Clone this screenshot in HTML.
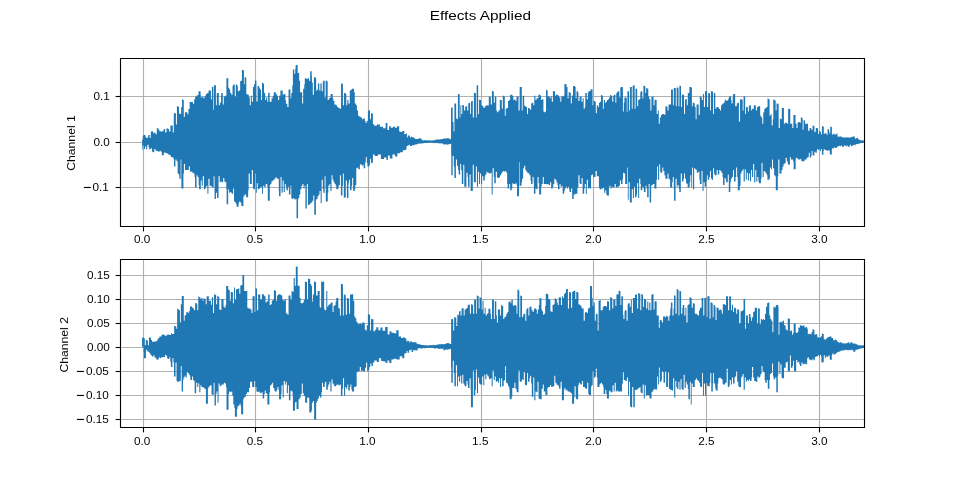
<!DOCTYPE html>
<html><head><meta charset="utf-8"><style>
html,body{margin:0;padding:0;background:#fff;}
svg{display:block;}
.t{font-family:"Liberation Sans",sans-serif;font-size:11.1px;fill:#000;}
.ti{font-family:"Liberation Sans",sans-serif;font-size:13.3px;fill:#000;}
</style></head><body>
<svg width="960" height="480" viewBox="0 0 960 480">
<rect width="960" height="480" fill="#fff"/>
<g opacity="0.999">
<text transform="translate(480.30,20.00) scale(1.156,1)" text-anchor="middle" class="ti">Effects Applied</text>
<clipPath id="c1"><rect x="120.5" y="58.5" width="744.0" height="168.0"/></clipPath>
<line x1="143.5" y1="58.5" x2="143.5" y2="226.5" stroke="#b0b0b0" stroke-width="1.11"/>
<line x1="255.5" y1="58.5" x2="255.5" y2="226.5" stroke="#b0b0b0" stroke-width="1.11"/>
<line x1="368.5" y1="58.5" x2="368.5" y2="226.5" stroke="#b0b0b0" stroke-width="1.11"/>
<line x1="481.5" y1="58.5" x2="481.5" y2="226.5" stroke="#b0b0b0" stroke-width="1.11"/>
<line x1="593.5" y1="58.5" x2="593.5" y2="226.5" stroke="#b0b0b0" stroke-width="1.11"/>
<line x1="706.5" y1="58.5" x2="706.5" y2="226.5" stroke="#b0b0b0" stroke-width="1.11"/>
<line x1="819.5" y1="58.5" x2="819.5" y2="226.5" stroke="#b0b0b0" stroke-width="1.11"/>
<line x1="120.5" y1="96.5" x2="864.5" y2="96.5" stroke="#b0b0b0" stroke-width="1.11"/>
<line x1="120.5" y1="142.5" x2="864.5" y2="142.5" stroke="#b0b0b0" stroke-width="1.11"/>
<line x1="120.5" y1="187.5" x2="864.5" y2="187.5" stroke="#b0b0b0" stroke-width="1.11"/>
<polygon clip-path="url(#c1)" fill="#1f77b4" points="142.10,139.38 142.79,139.38 142.79,135.88 143.41,135.88 143.41,135.00 145.41,135.00 145.41,136.75 145.91,136.75 145.91,137.63 148.16,137.63 148.16,135.00 149.66,135.00 149.66,137.63 150.79,137.63 150.79,131.50 152.04,131.50 152.04,131.15 153.16,131.15 153.16,133.25 154.29,133.25 154.29,132.38 155.54,132.38 155.54,134.13 156.79,134.13 156.79,128.35 158.54,128.35 158.54,129.75 159.41,129.75 159.41,131.15 160.79,131.15 160.79,131.50 162.04,131.50 162.04,131.15 163.54,131.15 163.54,128.88 165.16,128.88 165.16,132.38 166.54,132.38 166.54,128.35 167.79,128.35 167.79,128.88 169.04,128.88 169.04,131.50 170.41,131.50 170.41,125.38 172.79,125.38 172.79,132.38 173.79,132.38 173.79,113.13 175.91,113.13 175.91,124.50 176.91,124.50 176.91,106.13 178.41,106.13 178.41,107.00 179.04,107.00 179.04,113.65 181.16,113.65 181.16,107.00 182.04,107.00 182.04,99.30 182.91,99.30 182.91,100.00 183.79,100.00 183.79,116.63 184.91,116.63 184.91,112.25 187.29,112.25 187.29,114.35 188.41,114.35 188.41,109.10 189.66,109.10 189.66,102.10 192.91,102.10 192.91,103.85 194.16,103.85 194.16,99.13 195.16,99.13 195.16,96.85 196.29,96.85 196.29,95.63 197.54,95.63 197.54,95.10 198.54,95.10 198.54,91.25 200.54,91.25 200.54,94.75 200.79,94.75 200.79,97.38 201.91,97.38 201.91,96.85 203.29,96.85 203.29,98.25 204.54,98.25 204.54,96.15 205.79,96.15 205.79,93.88 207.16,93.88 207.16,93.00 208.54,93.00 208.54,90.38 210.91,90.38 210.91,99.13 211.91,99.13 211.91,86.88 213.29,86.88 213.29,109.63 213.91,109.63 213.91,85.13 215.91,85.13 215.91,105.25 216.79,105.25 216.79,93.00 218.79,93.00 218.79,105.25 219.91,105.25 219.91,102.63 221.04,102.63 221.04,95.63 221.29,95.63 221.29,93.00 222.79,93.00 222.79,104.38 223.79,104.38 223.79,96.50 225.04,96.50 225.04,95.63 226.41,95.63 226.41,78.13 228.29,78.13 228.29,87.75 229.29,87.75 229.29,89.50 230.16,89.50 230.16,93.00 231.29,93.00 231.29,94.75 232.54,94.75 232.54,86.00 233.16,86.00 233.16,84.60 234.79,84.60 234.79,96.50 235.79,96.50 235.79,84.60 237.29,84.60 237.29,86.00 237.79,86.00 237.79,91.25 239.04,91.25 239.04,90.38 240.16,90.38 240.16,81.10 241.04,81.10 241.04,80.75 241.91,80.75 241.91,69.90 243.04,69.90 243.04,70.25 243.91,70.25 243.91,84.25 244.66,84.25 244.66,77.25 246.04,77.25 246.04,78.13 246.29,78.13 246.29,93.88 247.41,93.88 247.41,94.75 248.79,94.75 248.79,97.38 249.79,97.38 249.79,105.25 250.79,105.25 250.79,95.63 251.79,95.63 251.79,101.75 252.91,101.75 252.91,86.88 254.04,86.88 254.04,84.25 254.91,84.25 254.91,80.40 256.41,80.40 256.41,101.40 257.54,101.40 257.54,86.00 259.16,86.00 259.16,87.75 259.91,87.75 259.91,89.50 261.04,89.50 261.04,100.00 262.04,100.00 262.04,82.85 263.04,82.85 263.04,83.38 264.04,83.38 264.04,93.00 265.16,93.00 265.16,100.00 266.16,100.00 266.16,97.38 267.29,97.38 267.29,101.75 268.16,101.75 268.16,92.65 269.66,92.65 269.66,101.75 271.54,101.75 271.54,98.25 272.79,98.25 272.79,95.63 273.79,95.63 273.79,92.13 275.79,92.13 275.79,93.88 276.79,93.88 276.79,95.63 278.04,95.63 278.04,100.00 279.16,100.00 279.16,95.63 280.41,95.63 280.41,90.38 282.66,90.38 282.66,94.75 283.79,94.75 283.79,93.88 285.41,93.88 285.41,100.00 285.91,100.00 285.91,103.85 287.29,103.85 287.29,107.00 288.54,107.00 288.54,89.50 290.41,89.50 290.41,98.25 291.29,98.25 291.29,93.00 292.29,93.00 292.29,85.13 292.91,85.13 292.91,69.38 294.29,69.38 294.29,73.75 295.29,73.75 295.29,68.50 295.66,68.50 295.66,65.00 297.66,65.00 297.66,72.88 299.16,72.88 299.16,80.75 300.04,80.75 300.04,92.13 302.16,92.13 302.16,103.50 303.16,103.50 303.16,88.63 304.29,88.63 304.29,84.25 304.79,84.25 304.79,78.13 306.41,78.13 306.41,79.00 307.79,79.00 307.79,78.13 309.04,78.13 309.04,80.75 310.16,80.75 310.16,71.13 311.66,71.13 311.66,75.50 311.91,75.50 311.91,82.50 312.79,82.50 312.79,94.75 313.91,94.75 313.91,77.25 315.54,77.25 315.54,78.13 316.16,78.13 316.16,90.38 317.29,90.38 317.29,89.50 317.91,89.50 317.91,83.38 319.29,83.38 319.29,90.38 320.41,90.38 320.41,83.38 321.66,83.38 321.66,91.25 322.79,91.25 322.79,81.63 323.29,81.63 323.29,80.75 324.66,80.75 324.66,97.38 325.66,97.38 325.66,80.75 327.29,80.75 327.29,81.63 327.66,81.63 327.66,100.00 328.79,100.00 328.79,98.25 330.04,98.25 330.04,97.38 330.66,97.38 330.66,93.88 332.66,93.88 332.66,98.25 333.29,98.25 333.29,100.88 334.41,100.88 334.41,104.38 335.79,104.38 335.79,105.25 337.04,105.25 337.04,107.00 338.29,107.00 338.29,107.88 339.66,107.88 339.66,108.75 341.04,108.75 341.04,83.38 342.66,83.38 342.66,84.25 342.91,84.25 342.91,105.25 344.04,105.25 344.04,93.00 345.66,93.00 345.66,93.88 346.29,93.88 346.29,105.25 347.29,105.25 347.29,100.00 348.41,100.00 348.41,103.50 349.79,103.50 349.79,90.38 351.04,90.38 351.04,89.50 352.04,89.50 352.04,88.63 354.04,88.63 354.04,92.13 354.79,92.13 354.79,103.50 355.91,103.50 355.91,105.25 356.91,105.25 356.91,110.50 358.04,110.50 358.04,115.75 359.29,115.75 359.29,116.63 360.66,116.63 360.66,117.50 362.04,117.50 362.04,119.25 363.29,119.25 363.29,118.38 364.91,118.38 364.91,121.00 365.54,121.00 365.54,122.75 366.79,122.75 366.79,121.00 367.91,121.00 367.91,110.50 370.04,110.50 370.04,119.25 371.04,119.25 371.04,113.13 372.54,113.13 372.54,114.00 372.91,114.00 372.91,124.17 374.16,124.17 374.16,125.73 376.79,125.73 376.79,124.38 379.91,124.38 379.91,126.77 383.04,126.77 383.04,128.33 385.66,128.33 385.66,123.12 387.41,123.12 387.41,129.90 389.04,129.90 389.04,126.25 390.79,126.25 390.79,127.81 392.91,127.81 392.91,126.77 395.04,126.77 395.04,127.81 397.04,127.81 397.04,126.25 399.16,126.25 399.16,131.46 400.41,131.46 400.41,131.98 402.29,131.98 402.29,130.94 404.29,130.94 404.29,134.58 404.66,134.58 404.66,134.00 406.16,134.00 406.16,133.25 406.91,133.25 406.91,137.50 407.79,137.50 407.79,135.50 409.79,135.50 409.79,137.50 410.79,137.50 410.79,136.50 411.79,136.50 411.79,137.25 413.79,137.25 413.79,137.75 414.79,137.75 414.79,139.00 417.79,139.00 417.79,138.75 418.79,138.75 418.79,138.50 419.66,138.50 419.66,138.00 420.41,138.00 420.41,138.50 421.16,138.50 421.16,139.50 421.91,139.50 421.91,139.75 422.66,139.75 422.66,140.75 423.54,140.75 423.54,140.25 426.54,140.25 426.54,140.50 427.54,140.50 427.54,140.25 429.54,140.25 429.54,140.50 432.54,140.50 432.54,140.25 433.54,140.25 433.54,140.50 434.54,140.50 434.54,140.00 435.54,140.00 435.54,139.50 436.54,139.50 436.54,139.75 437.54,139.75 437.54,139.25 438.54,139.25 438.54,139.50 440.54,139.50 440.54,139.25 441.54,139.25 441.54,139.00 443.54,139.00 443.54,138.50 444.54,138.50 444.54,138.25 445.54,138.25 445.54,138.75 446.54,138.75 446.54,138.25 447.54,138.25 447.54,138.00 448.54,138.00 448.54,138.50 449.54,138.50 449.54,139.25 450.41,139.25 450.41,139.00 451.04,139.00 451.04,107.88 451.79,107.88 451.79,107.35 452.66,107.35 452.66,121.88 453.54,121.88 453.54,131.50 454.41,131.50 454.41,103.50 456.16,103.50 456.16,118.38 457.04,118.38 457.04,119.25 457.91,119.25 457.91,93.88 459.41,93.88 459.41,94.75 459.66,94.75 459.66,117.50 460.41,117.50 460.41,105.25 461.29,105.25 461.29,114.00 462.29,114.00 462.29,104.90 463.16,104.90 463.16,105.25 464.04,105.25 464.04,110.50 465.16,110.50 465.16,107.00 465.66,107.00 465.66,106.13 467.16,106.13 467.16,110.50 468.29,110.50 468.29,103.15 469.29,103.15 469.29,102.63 470.16,102.63 470.16,114.00 471.04,114.00 471.04,101.75 471.41,101.75 471.41,100.88 472.79,100.88 472.79,117.50 473.91,117.50 473.91,93.00 475.91,93.00 475.91,117.50 476.66,117.50 476.66,85.13 478.16,85.13 478.16,114.00 479.04,114.00 479.04,99.65 480.04,99.65 480.04,100.00 481.16,100.00 481.16,105.25 482.29,105.25 482.29,106.13 483.54,106.13 483.54,107.88 484.79,107.88 484.79,106.13 486.16,106.13 486.16,105.25 487.54,105.25 487.54,105.60 488.79,105.60 488.79,96.85 490.79,96.85 490.79,104.38 491.91,104.38 491.91,90.90 492.91,90.90 492.91,91.60 493.79,91.60 493.79,102.63 494.79,102.63 494.79,96.50 496.29,96.50 496.29,110.50 497.04,110.50 497.04,112.25 498.41,112.25 498.41,110.50 499.79,110.50 499.79,100.00 501.79,100.00 501.79,108.75 502.79,108.75 502.79,95.63 504.41,95.63 504.41,96.50 504.79,96.50 504.79,115.75 505.66,115.75 505.66,108.75 506.79,108.75 506.79,107.88 508.04,107.88 508.04,100.88 509.16,100.88 509.16,100.00 510.16,100.00 510.16,94.75 512.29,94.75 512.29,95.63 513.29,95.63 513.29,100.00 514.41,100.00 514.41,99.13 515.41,99.13 515.41,100.88 516.54,100.88 516.54,96.50 518.54,96.50 518.54,110.50 519.66,110.50 519.66,86.88 521.79,86.88 521.79,110.50 522.66,110.50 522.66,95.63 524.16,95.63 524.16,105.25 524.66,105.25 524.66,106.13 525.91,106.13 525.91,107.00 527.04,107.00 527.04,114.00 528.04,114.00 528.04,107.88 529.54,107.88 529.54,108.75 530.16,108.75 530.16,109.63 531.16,109.63 531.16,103.50 531.79,103.50 531.79,102.63 533.29,102.63 533.29,105.25 534.29,105.25 534.29,95.63 535.41,95.63 535.41,100.00 536.54,100.00 536.54,98.25 538.41,98.25 538.41,94.75 540.41,94.75 540.41,95.63 541.04,95.63 541.04,100.00 541.91,100.00 541.91,99.13 543.41,99.13 543.41,111.38 543.91,111.38 543.91,112.25 545.16,112.25 545.16,111.38 546.04,111.38 546.04,89.85 546.79,89.85 546.79,90.38 547.66,90.38 547.66,96.50 549.79,96.50 549.79,98.25 550.79,98.25 550.79,96.50 551.79,96.50 551.79,101.75 552.91,101.75 552.91,91.25 555.04,91.25 555.04,95.63 556.04,95.63 556.04,94.75 558.16,94.75 558.16,95.63 559.16,95.63 559.16,97.38 560.29,97.38 560.29,101.75 561.29,101.75 561.29,96.50 563.41,96.50 563.41,95.63 564.41,95.63 564.41,83.90 565.54,83.90 565.54,84.25 566.54,84.25 566.54,86.88 567.54,86.88 567.54,98.25 568.66,98.25 568.66,92.13 570.16,92.13 570.16,93.00 570.79,93.00 570.79,103.50 571.79,103.50 571.79,95.63 572.79,95.63 572.79,94.75 573.04,94.75 573.04,86.00 575.04,86.00 575.04,86.88 575.66,86.88 575.66,98.25 576.54,98.25 576.54,91.25 577.91,91.25 577.91,92.13 578.41,92.13 578.41,100.88 579.54,100.88 579.54,97.38 580.04,97.38 580.04,96.50 581.54,96.50 581.54,101.75 582.66,101.75 582.66,98.25 583.66,98.25 583.66,108.75 584.79,108.75 584.79,107.00 585.29,107.00 585.29,93.00 586.79,93.00 586.79,99.13 587.91,99.13 587.91,92.13 588.79,92.13 588.79,90.90 589.54,90.90 589.54,91.25 590.41,91.25 590.41,89.50 591.54,89.50 591.54,89.15 592.54,89.15 592.54,105.25 593.54,105.25 593.54,100.88 595.16,100.88 595.16,101.75 595.79,101.75 595.79,113.13 596.79,113.13 596.79,105.25 597.91,105.25 597.91,107.00 598.91,107.00 598.91,102.63 600.04,102.63 600.04,101.75 601.04,101.75 601.04,95.10 602.04,95.10 602.04,95.63 602.91,95.63 602.91,108.75 603.79,108.75 603.79,100.00 604.91,100.00 604.91,102.63 605.91,102.63 605.91,101.75 607.04,101.75 607.04,100.00 608.04,100.00 608.04,99.13 609.04,99.13 609.04,97.38 610.16,97.38 610.16,95.10 611.16,95.10 611.16,95.63 612.29,95.63 612.29,101.75 613.29,101.75 613.29,95.63 613.91,95.63 613.91,94.75 615.41,94.75 615.41,102.63 616.29,102.63 616.29,93.00 617.16,93.00 617.16,92.13 617.66,92.13 617.66,91.25 619.29,91.25 619.29,97.38 620.29,97.38 620.29,87.75 620.91,87.75 620.91,86.88 622.91,86.88 622.91,111.38 623.79,111.38 623.79,102.63 624.41,102.63 624.41,97.38 626.41,97.38 626.41,98.25 626.79,98.25 626.79,112.25 627.41,112.25 627.41,91.25 629.04,91.25 629.04,110.50 629.91,110.50 629.91,86.88 631.79,86.88 631.79,108.75 632.66,108.75 632.66,85.65 633.54,85.65 633.54,85.13 634.66,85.13 634.66,108.75 635.54,108.75 635.54,88.63 636.91,88.63 636.91,89.50 637.16,89.50 637.16,106.13 638.16,106.13 638.16,100.00 639.16,100.00 639.16,99.13 640.29,99.13 640.29,92.13 640.79,92.13 640.79,91.25 642.29,91.25 642.29,98.25 643.41,98.25 643.41,85.65 644.41,85.65 644.41,86.00 645.29,86.00 645.29,93.00 646.16,93.00 646.16,88.10 647.29,88.10 647.29,88.63 648.29,88.63 648.29,96.50 649.29,96.50 649.29,99.13 650.41,99.13 650.41,110.50 651.41,110.50 651.41,96.85 652.54,96.85 652.54,96.50 653.54,96.50 653.54,105.25 654.54,105.25 654.54,99.65 655.66,99.65 655.66,100.00 656.66,100.00 656.66,114.00 657.79,114.00 657.79,110.50 658.79,110.50 658.79,123.63 659.79,123.63 659.79,117.50 661.04,117.50 661.04,114.88 662.29,114.88 662.29,114.00 664.41,114.00 664.41,114.88 665.41,114.88 665.41,106.13 666.91,106.13 666.91,107.00 667.54,107.00 667.54,110.50 668.54,110.50 668.54,104.38 671.04,104.38 671.04,89.50 672.91,89.50 672.91,105.25 673.79,105.25 673.79,88.10 675.79,88.10 675.79,106.13 676.66,106.13 676.66,87.40 677.66,87.40 677.66,87.75 678.54,87.75 678.54,106.13 679.41,106.13 679.41,85.65 680.29,85.65 680.29,86.00 681.04,86.00 681.04,107.00 681.91,107.00 681.91,94.75 684.04,94.75 684.04,114.00 685.04,114.00 685.04,99.13 686.79,99.13 686.79,105.25 687.79,105.25 687.79,93.00 689.41,93.00 689.41,86.88 691.41,86.88 691.41,87.75 691.91,87.75 691.91,106.13 692.79,106.13 692.79,102.63 694.29,102.63 694.29,103.50 694.79,103.50 694.79,107.00 695.66,107.00 695.66,119.25 696.54,119.25 696.54,104.38 698.66,104.38 698.66,114.88 699.79,114.88 699.79,96.50 701.29,96.50 701.29,97.38 701.79,97.38 701.79,100.00 702.91,100.00 702.91,93.88 703.91,93.88 703.91,107.00 705.04,107.00 705.04,91.25 707.04,91.25 707.04,107.00 708.16,107.00 708.16,93.00 709.66,93.00 709.66,93.88 710.04,93.88 710.04,110.50 710.91,110.50 710.91,91.25 712.04,91.25 712.04,91.60 713.04,91.60 713.04,114.00 713.91,114.00 713.91,93.00 715.29,93.00 715.29,108.75 716.41,108.75 716.41,107.00 718.41,107.00 718.41,107.88 719.04,107.88 719.04,109.10 720.04,109.10 720.04,110.50 721.04,110.50 721.04,105.25 722.16,105.25 722.16,103.85 723.16,103.85 723.16,103.15 724.29,103.15 724.29,101.75 724.79,101.75 724.79,99.65 726.29,99.65 726.29,100.88 727.41,100.88 727.41,100.00 728.41,100.00 728.41,98.25 729.04,98.25 729.04,96.50 731.04,96.50 731.04,100.00 731.54,100.00 731.54,103.50 732.66,103.50 732.66,97.38 733.16,97.38 733.16,93.88 735.16,93.88 735.16,106.13 736.79,106.13 736.79,103.50 737.41,103.50 737.41,102.63 738.91,102.63 738.91,121.88 739.66,121.88 739.66,121.00 740.04,121.00 740.04,99.13 742.04,99.13 742.04,100.00 742.66,100.00 742.66,110.50 743.54,110.50 743.54,96.50 745.16,96.50 745.16,114.00 746.04,114.00 746.04,107.00 747.04,107.00 747.04,107.35 747.91,107.35 747.91,111.38 748.91,111.38 748.91,105.60 750.04,105.60 750.04,105.25 750.91,105.25 750.91,110.50 751.79,110.50 751.79,108.75 752.79,108.75 752.79,109.10 753.79,109.10 753.79,105.25 754.91,105.25 754.91,105.60 755.91,105.60 755.91,110.50 757.04,110.50 757.04,107.00 758.04,107.00 758.04,106.13 760.16,106.13 760.16,115.75 761.16,115.75 761.16,117.50 762.29,117.50 762.29,123.63 763.29,123.63 763.29,112.25 764.29,112.25 764.29,108.75 765.41,108.75 765.41,107.88 766.41,107.88 766.41,107.00 767.54,107.00 767.54,98.60 768.54,98.60 768.54,99.13 769.54,99.13 769.54,115.75 770.66,115.75 770.66,114.00 771.66,114.00 771.66,125.38 772.79,125.38 772.79,119.25 773.29,119.25 773.29,99.65 775.29,99.65 775.29,100.88 775.66,100.88 775.66,110.50 776.54,110.50 776.54,103.50 777.66,103.50 777.66,103.85 778.66,103.85 778.66,128.00 779.79,128.00 779.79,118.38 780.79,118.38 780.79,119.25 781.79,119.25 781.79,107.88 783.91,107.88 783.91,123.63 785.04,123.63 785.04,122.75 787.04,122.75 787.04,123.63 788.16,123.63 788.16,108.75 789.16,108.75 789.16,109.10 790.29,109.10 790.29,123.63 792.29,123.63 792.29,128.00 793.41,128.00 793.41,114.88 795.54,114.88 795.54,123.63 796.54,123.63 796.54,128.00 797.54,128.00 797.54,122.75 798.16,122.75 798.16,121.88 799.66,121.88 799.66,122.75 800.79,122.75 800.79,117.50 802.29,117.50 802.29,118.38 802.66,118.38 802.66,129.75 803.54,129.75 803.54,120.13 805.04,120.13 805.04,123.63 808.04,123.63 808.04,130.78 809.54,130.78 809.54,127.97 811.16,127.97 811.16,128.91 811.66,128.91 811.66,130.31 812.54,130.31 812.54,125.62 813.54,125.62 813.54,126.09 814.41,126.09 814.41,132.19 815.41,132.19 815.41,131.25 815.79,131.25 815.79,127.97 817.79,127.97 817.79,128.91 818.16,128.91 818.16,134.06 819.16,134.06 819.16,131.25 820.04,131.25 820.04,131.72 821.04,131.72 821.04,134.53 821.91,134.53 821.91,126.37 822.91,126.37 822.91,126.56 823.79,126.56 823.79,134.06 824.79,134.06 824.79,133.12 825.66,133.12 825.66,133.59 826.66,133.59 826.66,135.00 827.54,135.00 827.54,129.37 829.04,129.37 829.04,131.25 829.41,131.25 829.41,133.59 830.29,133.59 830.29,126.56 831.04,126.56 831.04,127.03 831.91,127.03 831.91,135.00 832.66,135.00 832.66,134.06 833.66,134.06 833.66,133.59 834.54,133.59 834.54,135.00 835.54,135.00 835.54,134.06 836.41,134.06 836.41,133.59 837.41,133.59 837.41,136.41 838.29,136.41 838.29,136.87 839.29,136.87 839.29,136.41 841.16,136.41 841.16,136.87 842.04,136.87 842.04,137.34 843.04,137.34 843.04,137.81 843.91,137.81 843.91,137.34 844.91,137.34 844.91,137.81 845.79,137.81 845.79,137.34 847.66,137.34 847.66,137.81 848.66,137.81 848.66,137.34 849.54,137.34 849.54,137.81 850.54,137.81 850.54,137.34 851.41,137.34 851.41,136.87 852.41,136.87 852.41,137.34 852.79,137.34 852.79,136.41 854.79,136.41 854.79,138.28 855.16,138.28 855.16,138.75 856.16,138.75 856.16,138.28 857.04,138.28 857.04,137.81 858.04,137.81 858.04,139.22 858.91,139.22 858.91,139.69 859.91,139.69 859.91,140.16 861.79,140.16 861.79,140.44 864.48,140.44 864.48,142.50 863.04,142.50 863.04,142.97 860.41,142.97 860.41,143.62 859.41,143.62 859.41,143.44 858.54,143.44 858.54,143.91 857.54,143.91 857.54,144.37 856.66,144.37 856.66,143.91 855.66,143.91 855.66,145.31 854.79,145.31 854.79,144.84 853.79,144.84 853.79,145.31 852.91,145.31 852.91,145.78 851.91,145.78 851.91,146.25 851.04,146.25 851.04,144.84 850.04,144.84 850.04,145.31 849.66,145.31 849.66,146.72 847.66,146.72 847.66,145.31 847.29,145.31 847.29,145.78 846.29,145.78 846.29,146.25 845.41,146.25 845.41,145.31 844.41,145.31 844.41,145.78 844.04,145.78 844.04,146.72 842.04,146.72 842.04,145.31 841.66,145.31 841.66,145.78 840.66,145.78 840.66,146.25 839.79,146.25 839.79,145.78 838.79,145.78 838.79,146.25 837.91,146.25 837.91,146.72 836.91,146.72 836.91,147.66 836.04,147.66 836.04,148.12 835.04,148.12 835.04,147.19 834.16,147.19 834.16,148.59 833.16,148.59 833.16,148.12 832.29,148.12 832.29,149.06 831.79,149.06 831.79,154.50 829.79,154.50 829.79,150.94 829.41,150.94 829.41,150.00 828.54,150.00 828.54,150.47 827.54,150.47 827.54,150.94 826.66,150.94 826.66,150.00 824.79,150.00 824.79,149.06 823.79,149.06 823.79,150.94 823.41,150.94 823.41,154.69 821.91,154.69 821.91,149.06 821.04,149.06 821.04,150.94 820.04,150.94 820.04,149.06 819.16,149.06 819.16,150.00 818.16,150.00 818.16,149.06 817.29,149.06 817.29,150.00 816.79,150.00 816.79,152.81 815.41,152.81 815.41,151.87 814.41,151.87 814.41,155.62 812.91,155.62 812.91,154.69 812.54,154.69 812.54,150.94 811.66,150.94 811.66,155.62 811.16,155.62 811.16,157.50 809.79,157.50 809.79,152.81 808.79,152.81 808.79,157.03 807.79,157.03 807.79,157.75 806.66,157.75 806.66,159.50 804.54,159.50 804.54,161.25 801.41,161.25 801.41,158.63 800.41,158.63 800.41,159.50 798.29,159.50 798.29,158.63 797.29,158.63 797.29,157.75 796.16,157.75 796.16,158.63 795.66,158.63 795.66,169.13 793.66,169.13 793.66,161.25 793.04,161.25 793.04,159.50 790.91,159.50 790.91,156.88 789.91,156.88 789.91,164.75 788.41,164.75 788.41,163.88 787.79,163.88 787.79,161.25 786.79,161.25 786.79,157.75 785.66,157.75 785.66,163.00 784.66,163.00 784.66,163.88 783.54,163.88 783.54,166.50 782.54,166.50 782.54,170.00 781.54,170.00 781.54,173.50 779.41,173.50 779.41,159.50 778.29,159.50 778.29,176.13 777.79,176.13 777.79,190.13 775.79,190.13 775.79,176.13 775.16,176.13 775.16,175.25 774.16,175.25 774.16,168.25 773.04,168.25 773.04,159.50 772.04,159.50 772.04,169.13 771.04,169.13 771.04,167.38 769.91,167.38 769.91,177.88 769.41,177.88 769.41,179.63 767.41,179.63 767.41,175.25 766.79,175.25 766.79,173.50 765.79,173.50 765.79,171.75 764.66,171.75 764.66,170.88 763.66,170.88 763.66,177.00 762.54,177.00 762.54,163.00 761.54,163.00 761.54,178.75 760.91,178.75 760.91,183.13 758.91,183.13 758.91,181.38 758.41,181.38 758.41,177.00 757.29,177.00 757.29,181.38 756.29,181.38 756.29,170.00 755.29,170.00 755.29,182.25 754.16,182.25 754.16,163.88 753.16,163.88 753.16,177.00 752.04,177.00 752.04,170.00 751.04,170.00 751.04,181.38 750.04,181.38 750.04,173.50 748.91,173.50 748.91,180.50 747.91,180.50 747.91,172.63 746.79,172.63 746.79,179.63 745.79,179.63 745.79,169.13 744.79,169.13 744.79,181.38 743.66,181.38 743.66,169.13 742.66,169.13 742.66,170.88 741.54,170.88 741.54,173.50 740.54,173.50 740.54,185.75 739.79,185.75 739.79,190.13 737.79,190.13 737.79,177.00 737.16,177.00 737.16,167.38 736.16,167.38 736.16,177.00 735.54,177.00 735.54,181.38 734.04,181.38 734.04,170.00 733.04,170.00 733.04,177.00 731.91,177.00 731.91,178.75 730.91,178.75 730.91,182.25 730.29,182.25 730.29,191.88 728.79,191.88 728.79,174.38 727.79,174.38 727.79,182.25 726.16,182.25 726.16,179.63 725.66,179.63 725.66,177.88 724.54,177.88 724.54,184.88 723.04,184.88 723.04,177.00 722.54,177.00 722.54,172.63 721.41,172.63 721.41,170.88 720.41,170.88 720.41,170.00 719.29,170.00 719.29,174.38 717.79,174.38 717.79,170.00 716.66,170.00 716.66,175.25 714.66,175.25 714.66,173.50 714.04,173.50 714.04,168.25 713.04,168.25 713.04,179.63 711.54,179.63 711.54,177.88 710.91,177.88 710.91,170.88 709.91,170.88 709.91,177.00 709.29,177.00 709.29,179.63 707.79,179.63 707.79,175.25 706.79,175.25 706.79,181.38 706.16,181.38 706.16,186.63 704.66,186.63 704.66,182.25 703.54,182.25 703.54,191.00 702.54,191.00 702.54,170.88 701.54,170.88 701.54,184.00 699.91,184.00 699.91,179.63 699.41,179.63 699.41,171.75 698.29,171.75 698.29,172.63 696.79,172.63 696.79,170.00 696.29,170.00 696.29,169.13 695.16,169.13 695.16,168.25 694.16,168.25 694.16,189.25 693.04,189.25 693.04,167.38 692.16,167.38 692.16,187.50 691.29,187.50 691.29,175.25 690.29,175.25 690.29,182.25 689.66,182.25 689.66,187.50 687.66,187.50 687.66,184.00 687.16,184.00 687.16,183.13 686.04,183.13 686.04,178.75 685.04,178.75 685.04,173.50 684.04,173.50 684.04,178.75 683.41,178.75 683.41,181.38 681.91,181.38 681.91,173.50 680.79,173.50 680.79,191.88 679.29,191.88 679.29,188.38 678.79,188.38 678.79,184.88 677.66,184.88 677.66,186.63 676.66,186.63 676.66,178.75 675.54,178.75 675.54,200.63 674.04,200.63 674.04,188.38 673.79,188.38 673.79,177.00 672.79,177.00 672.79,182.25 672.16,182.25 672.16,187.50 670.16,187.50 670.16,179.63 669.66,179.63 669.66,178.75 668.54,178.75 668.54,173.50 667.54,173.50 667.54,178.75 665.41,178.75 665.41,175.25 664.41,175.25 664.41,170.88 663.29,170.88 663.29,167.38 662.29,167.38 662.29,172.63 660.79,172.63 660.79,171.75 660.16,171.75 660.16,164.40 659.16,164.40 659.16,179.63 658.04,179.63 658.04,166.50 657.04,166.50 657.04,179.63 656.41,179.63 656.41,188.38 654.41,188.38 654.41,184.00 652.79,184.00 652.79,184.88 651.79,184.88 651.79,185.75 651.16,185.75 651.16,202.38 649.66,202.38 649.66,184.00 648.66,184.00 648.66,197.13 647.16,197.13 647.16,188.38 646.54,188.38 646.54,185.75 645.54,185.75 645.54,191.88 643.91,191.88 643.91,188.38 643.41,188.38 643.41,186.63 642.29,186.63 642.29,190.13 640.79,190.13 640.79,184.00 640.29,184.00 640.29,178.75 639.16,178.75 639.16,198.00 638.16,198.00 638.16,183.13 637.04,183.13 637.04,194.50 636.54,194.50 636.54,197.13 635.04,197.13 635.04,186.63 633.91,186.63 633.91,198.00 632.91,198.00 632.91,189.25 631.79,189.25 631.79,202.38 629.79,202.38 629.79,182.25 628.66,182.25 628.66,199.75 627.79,199.75 627.79,167.38 627.16,167.38 627.16,184.00 625.16,184.00 625.16,173.50 624.16,173.50 624.16,172.63 623.04,172.63 623.04,178.75 622.54,178.75 622.54,184.00 621.04,184.00 621.04,180.50 619.91,180.50 619.91,185.75 618.91,185.75 618.91,186.63 617.29,186.63 617.29,187.50 615.79,187.50 615.79,184.00 614.66,184.00 614.66,186.63 614.16,186.63 614.16,187.50 612.54,187.50 612.54,186.63 611.54,186.63 611.54,188.38 610.54,188.38 610.54,185.75 609.41,185.75 609.41,187.50 608.91,187.50 608.91,195.38 606.91,195.38 606.91,194.50 606.29,194.50 606.29,190.13 605.29,190.13 605.29,192.75 604.16,192.75 604.16,187.50 603.16,187.50 603.16,188.38 601.54,188.38 601.54,189.25 599.54,189.25 599.54,187.50 598.91,187.50 598.91,176.13 596.79,176.13 596.79,170.88 595.54,170.88 595.54,177.00 593.54,177.00 593.54,176.13 593.04,176.13 593.04,174.38 591.91,174.38 591.91,175.25 591.04,175.25 591.04,188.38 589.66,188.38 589.66,187.50 588.91,187.50 588.91,188.38 587.91,188.38 587.91,179.63 586.79,179.63 586.79,193.63 585.79,193.63 585.79,184.00 584.79,184.00 584.79,188.38 584.16,188.38 584.16,193.63 582.66,193.63 582.66,177.88 581.54,177.88 581.54,184.00 580.04,184.00 580.04,183.13 579.54,183.13 579.54,175.25 578.41,175.25 578.41,187.50 577.41,187.50 577.41,193.63 575.29,193.63 575.29,194.50 573.66,194.50 573.66,198.88 572.16,198.88 572.16,188.38 571.04,188.38 571.04,191.88 569.54,191.88 569.54,189.25 569.04,189.25 569.04,186.63 567.91,186.63 567.91,188.38 566.91,188.38 566.91,186.63 565.79,186.63 565.79,188.38 564.79,188.38 564.79,191.00 564.16,191.00 564.16,193.63 562.66,193.63 562.66,185.75 561.66,185.75 561.66,186.63 560.54,186.63 560.54,184.00 559.54,184.00 559.54,189.25 558.04,189.25 558.04,184.88 557.41,184.88 557.41,182.25 556.41,182.25 556.41,179.63 555.29,179.63 555.29,178.75 554.29,178.75 554.29,184.00 553.29,184.00 553.29,186.63 552.66,186.63 552.66,188.38 551.16,188.38 551.16,182.25 550.04,182.25 550.04,184.88 548.54,184.88 548.54,184.00 546.91,184.00 546.91,184.35 545.91,184.35 545.91,184.00 543.79,184.00 543.79,177.00 542.79,177.00 542.79,184.00 541.66,184.00 541.66,186.63 541.16,186.63 541.16,194.50 539.16,194.50 539.16,183.13 538.54,183.13 538.54,177.00 537.54,177.00 537.54,189.25 536.41,189.25 536.41,188.38 535.41,188.38 535.41,193.63 533.91,193.63 533.91,182.25 533.66,182.25 533.66,177.00 532.54,177.00 532.54,184.00 531.04,184.00 531.04,180.50 530.54,180.50 530.54,175.25 529.41,175.25 529.41,173.50 528.41,173.50 528.41,172.63 527.29,172.63 527.29,171.75 526.29,171.75 526.29,170.00 525.29,170.00 525.29,165.63 524.16,165.63 524.16,168.25 523.16,168.25 523.16,178.75 522.04,178.75 522.04,182.25 521.54,182.25 521.54,185.75 519.54,185.75 519.54,162.13 519.04,162.13 519.04,196.25 517.04,196.25 517.04,184.88 516.54,184.88 516.54,183.13 515.41,183.13 515.41,184.00 513.29,184.00 513.29,183.13 512.29,183.13 512.29,188.38 511.66,188.38 511.66,190.13 510.16,190.13 510.16,184.00 509.16,184.00 509.16,188.38 507.66,188.38 507.66,184.00 507.16,184.00 507.16,172.63 506.29,172.63 506.29,170.88 505.29,170.88 505.29,171.75 504.29,171.75 504.29,170.88 503.16,170.88 503.16,171.75 502.16,171.75 502.16,173.50 501.04,173.50 501.04,175.25 500.04,175.25 500.04,177.00 499.41,177.00 499.41,177.88 497.41,177.88 497.41,177.00 496.91,177.00 496.91,171.75 495.79,171.75 495.79,183.13 494.29,183.13 494.29,177.00 493.79,177.00 493.79,168.25 492.66,168.25 492.66,194.50 491.66,194.50 491.66,172.63 490.54,172.63 490.54,173.50 489.04,173.50 489.04,172.63 487.41,172.63 487.41,171.75 486.41,171.75 486.41,174.38 485.29,174.38 485.29,176.13 484.79,176.13 484.79,180.50 483.29,180.50 483.29,176.13 482.16,176.13 482.16,184.00 481.16,184.00 481.16,173.50 480.04,173.50 480.04,184.00 479.04,184.00 479.04,171.75 478.04,171.75 478.04,186.63 476.91,186.63 476.91,166.50 475.91,166.50 475.91,182.25 473.79,182.25 473.79,164.75 472.79,164.75 472.79,191.00 470.66,191.00 470.66,174.38 469.54,174.38 469.54,186.63 468.04,186.63 468.04,177.00 467.54,177.00 467.54,172.63 466.41,172.63 466.41,186.63 464.29,186.63 464.29,164.75 463.29,164.75 463.29,184.00 461.79,184.00 461.79,170.00 461.16,170.00 461.16,163.88 460.16,163.88 460.16,174.38 458.66,174.38 458.66,170.00 458.04,170.00 458.04,165.63 457.04,165.63 457.04,159.50 455.91,159.50 455.91,177.88 454.41,177.88 454.41,166.50 453.79,166.50 453.79,156.00 452.66,156.00 452.66,175.25 451.29,175.25 451.29,154.25 451.16,154.25 451.16,143.75 450.41,143.75 450.41,144.00 449.54,144.00 449.54,144.25 448.54,144.25 448.54,144.50 447.54,144.50 447.54,144.75 446.54,144.75 446.54,144.25 444.54,144.25 444.54,144.75 443.54,144.75 443.54,144.00 442.54,144.00 442.54,143.25 441.54,143.25 441.54,143.50 440.54,143.50 440.54,143.25 439.54,143.25 439.54,143.50 438.54,143.50 438.54,143.00 437.54,143.00 437.54,143.25 436.54,143.25 436.54,143.00 435.54,143.00 435.54,142.75 434.54,142.75 434.54,143.25 433.54,143.25 433.54,143.00 432.54,143.00 432.54,142.75 430.54,142.75 430.54,142.60 429.54,142.60 429.54,142.75 427.54,142.75 427.54,142.90 425.54,142.90 425.54,143.00 423.54,143.00 423.54,143.50 422.54,143.50 422.54,143.25 421.54,143.25 421.54,143.50 420.54,143.50 420.54,143.75 419.54,143.75 419.54,143.25 418.54,143.25 418.54,144.00 417.54,144.00 417.54,144.25 416.54,144.25 416.54,144.50 414.54,144.50 414.54,145.50 413.54,145.50 413.54,145.25 412.54,145.25 412.54,145.00 412.04,145.00 412.04,146.00 410.04,146.00 410.04,144.50 409.54,144.50 409.54,145.25 408.54,145.25 408.54,145.50 407.54,145.50 407.54,146.00 406.54,146.00 406.54,149.50 405.54,149.50 405.54,150.00 404.66,150.00 404.66,150.21 402.79,150.21 402.79,152.29 399.91,152.29 399.91,153.33 397.29,153.33 397.29,156.46 395.04,156.46 395.04,154.38 392.41,154.38 392.41,158.54 389.79,158.54 389.79,155.42 387.91,155.42 387.91,160.10 386.41,160.10 386.41,157.50 384.04,157.50 384.04,159.06 380.91,159.06 380.91,154.38 377.79,154.38 377.79,155.94 374.66,155.94 374.66,154.38 372.91,154.38 372.91,162.13 372.54,162.13 372.54,163.00 371.04,163.00 371.04,158.63 370.04,158.63 370.04,164.75 369.41,164.75 369.41,166.50 367.41,166.50 367.41,163.00 366.79,163.00 366.79,156.88 365.79,156.88 365.79,162.13 365.16,162.13 365.16,168.25 363.66,168.25 363.66,164.75 362.66,164.75 362.66,165.63 361.54,165.63 361.54,163.88 360.54,163.88 360.54,164.75 359.91,164.75 359.91,169.13 358.41,169.13 358.41,167.38 357.41,167.38 357.41,168.25 356.29,168.25 356.29,184.88 355.29,184.88 355.29,189.25 354.66,189.25 354.66,191.00 353.16,191.00 353.16,177.88 352.16,177.88 352.16,185.75 351.54,185.75 351.54,190.13 350.04,190.13 350.04,179.63 349.04,179.63 349.04,183.13 348.41,183.13 348.41,198.00 346.91,198.00 346.91,180.50 345.79,180.50 345.79,197.13 344.79,197.13 344.79,197.65 343.79,197.65 343.79,173.50 342.91,173.50 342.91,185.75 342.41,185.75 342.41,195.38 340.91,195.38 340.91,175.25 339.91,175.25 339.91,184.88 338.79,184.88 338.79,186.63 338.29,186.63 338.29,189.25 336.29,189.25 336.29,185.75 335.66,185.75 335.66,184.00 334.66,184.00 334.66,182.25 333.54,182.25 333.54,179.63 332.54,179.63 332.54,175.25 331.54,175.25 331.54,191.00 330.41,191.00 330.41,184.00 329.41,184.00 329.41,185.75 328.29,185.75 328.29,192.75 327.79,192.75 327.79,201.50 325.79,201.50 325.79,188.38 325.54,188.38 325.54,176.13 324.66,176.13 324.66,192.75 323.29,192.75 323.29,189.25 322.79,189.25 322.79,179.63 321.66,179.63 321.66,203.25 320.66,203.25 320.66,191.00 319.54,191.00 319.54,194.50 318.54,194.50 318.54,196.25 317.54,196.25 317.54,198.88 316.41,198.88 316.41,199.75 315.91,199.75 315.91,214.63 314.29,214.63 314.29,195.38 313.29,195.38 313.29,200.63 312.29,200.63 312.29,202.38 311.16,202.38 311.16,203.25 310.16,203.25 310.16,204.13 309.41,204.13 309.41,205.00 307.91,205.00 307.91,184.00 307.04,184.00 307.04,184.88 306.79,184.88 306.79,208.50 305.41,208.50 305.41,185.75 304.54,185.75 304.54,188.38 303.54,188.38 303.54,184.00 302.41,184.00 302.41,185.75 301.41,185.75 301.41,189.25 300.29,189.25 300.29,194.50 299.29,194.50 299.29,198.00 298.29,198.00 298.29,199.75 298.04,199.75 298.04,218.13 296.54,218.13 296.54,198.88 295.41,198.88 295.41,199.75 294.41,199.75 294.41,198.00 293.29,198.00 293.29,198.88 291.79,198.88 291.79,198.00 291.29,198.00 291.29,185.75 290.41,185.75 290.41,194.50 288.91,194.50 288.91,186.63 287.91,186.63 287.91,190.13 286.41,190.13 286.41,186.63 285.79,186.63 285.79,184.00 284.79,184.00 284.79,191.88 283.66,191.88 283.66,180.50 282.66,180.50 282.66,192.75 281.54,192.75 281.54,177.00 280.54,177.00 280.54,196.25 279.04,196.25 279.04,191.00 278.79,191.00 278.79,178.75 276.66,178.75 276.66,177.00 275.66,177.00 275.66,178.40 274.54,178.40 274.54,179.63 273.54,179.63 273.54,180.50 272.54,180.50 272.54,181.38 271.41,181.38 271.41,184.00 270.41,184.00 270.41,184.88 269.79,184.88 269.79,200.63 267.79,200.63 267.79,186.63 267.29,186.63 267.29,184.00 265.66,184.00 265.66,186.63 264.04,186.63 264.04,185.75 263.04,185.75 263.04,193.63 262.04,193.63 262.04,186.63 260.91,186.63 260.91,187.50 259.91,187.50 259.91,188.38 259.29,188.38 259.29,189.25 257.79,189.25 257.79,183.13 256.79,183.13 256.79,192.75 255.91,192.75 255.91,173.50 255.04,173.50 255.04,189.25 253.41,189.25 253.41,187.50 252.91,187.50 252.91,170.00 251.79,170.00 251.79,184.00 249.79,184.00 249.79,173.50 248.66,173.50 248.66,190.13 248.16,190.13 248.16,197.13 246.16,197.13 246.16,194.50 244.54,194.50 244.54,196.25 243.41,196.25 243.41,205.88 241.29,205.88 241.29,202.38 240.29,202.38 240.29,201.50 239.29,201.50 239.29,202.38 238.66,202.38 238.66,206.75 236.66,206.75 236.66,204.13 236.04,204.13 236.04,202.38 235.04,202.38 235.04,201.50 234.04,201.50 234.04,188.38 233.16,188.38 233.16,193.63 231.79,193.63 231.79,192.75 231.16,192.75 231.16,191.88 230.16,191.88 230.16,192.75 229.04,192.75 229.04,189.25 228.16,189.25 228.16,204.13 226.66,204.13 226.66,189.25 226.29,189.25 226.29,182.25 225.29,182.25 225.29,181.38 224.29,181.38 224.29,177.88 223.16,177.88 223.16,182.25 222.04,182.25 222.04,181.38 220.79,181.38 220.79,182.25 219.66,182.25 219.66,176.13 218.54,176.13 218.54,198.00 217.04,198.00 217.04,192.75 215.91,192.75 215.91,198.88 214.54,198.88 214.54,176.13 213.66,176.13 213.66,187.50 212.16,187.50 212.16,186.63 211.54,186.63 211.54,185.75 209.54,185.75 209.54,178.75 208.41,178.75 208.41,193.63 207.41,193.63 207.41,185.75 206.29,185.75 206.29,187.50 205.41,187.50 205.41,189.25 203.91,189.25 203.91,176.13 202.79,176.13 202.79,185.75 201.79,185.75 201.79,180.50 200.79,180.50 200.79,189.25 199.16,189.25 199.16,184.88 198.66,184.88 198.66,177.00 197.54,177.00 197.54,175.25 196.54,175.25 196.54,187.50 195.04,187.50 195.04,177.00 194.54,177.00 194.54,173.50 193.41,173.50 193.41,172.63 192.29,172.63 192.29,171.40 191.04,171.40 191.04,171.75 189.91,171.75 189.91,166.50 188.79,166.50 188.79,170.00 185.04,170.00 185.04,163.88 183.91,163.88 183.91,173.50 183.41,173.50 183.41,188.38 181.41,188.38 181.41,180.50 181.29,180.50 181.29,159.50 180.66,159.50 180.66,178.75 179.29,178.75 179.29,174.38 178.66,174.38 178.66,173.50 177.66,173.50 177.66,161.25 176.54,161.25 176.54,159.50 175.41,159.50 175.41,166.50 174.04,166.50 174.04,159.50 173.54,159.50 173.54,157.40 172.16,157.40 172.16,156.88 170.79,156.88 170.79,155.13 169.54,155.13 169.54,154.60 168.04,154.60 168.04,153.38 166.29,153.38 166.29,152.85 164.54,152.85 164.54,152.50 163.79,152.50 163.79,155.13 161.79,155.13 161.79,151.63 160.79,151.63 160.79,150.75 159.54,150.75 159.54,151.63 158.16,151.63 158.16,151.10 156.79,151.10 156.79,150.75 155.54,150.75 155.54,149.00 154.29,149.00 154.29,152.15 153.16,152.15 153.16,151.63 152.04,151.63 152.04,148.13 150.79,148.13 150.79,149.35 149.16,149.35 149.16,147.25 148.54,147.25 148.54,144.63 147.29,144.63 147.29,149.35 146.16,149.35 146.16,146.38 145.04,146.38 145.04,149.00 143.79,149.00 143.79,145.50 142.66,145.50 142.66,149.88 142.10,149.88"/>
<path d="M120.5,58.5H864.5V226.5H120.5Z" fill="none" stroke="#000" stroke-width="1.11" stroke-linejoin="miter" stroke-linecap="square"/>
<line x1="143.5" y1="226.5" x2="143.5" y2="231.4" stroke="#000" stroke-width="1.11"/>
<text transform="translate(142.15,242.90) scale(1.06,1)" text-anchor="middle" class="t">0.0</text>
<line x1="255.5" y1="226.5" x2="255.5" y2="231.4" stroke="#000" stroke-width="1.11"/>
<text transform="translate(254.90,242.90) scale(1.06,1)" text-anchor="middle" class="t">0.5</text>
<line x1="368.5" y1="226.5" x2="368.5" y2="231.4" stroke="#000" stroke-width="1.11"/>
<text transform="translate(367.30,242.90) scale(1.06,1)" text-anchor="middle" class="t">1.0</text>
<line x1="481.5" y1="226.5" x2="481.5" y2="231.4" stroke="#000" stroke-width="1.11"/>
<text transform="translate(480.25,242.90) scale(1.06,1)" text-anchor="middle" class="t">1.5</text>
<line x1="593.5" y1="226.5" x2="593.5" y2="231.4" stroke="#000" stroke-width="1.11"/>
<text transform="translate(593.30,242.90) scale(1.06,1)" text-anchor="middle" class="t">2.0</text>
<line x1="706.5" y1="226.5" x2="706.5" y2="231.4" stroke="#000" stroke-width="1.11"/>
<text transform="translate(706.35,242.90) scale(1.06,1)" text-anchor="middle" class="t">2.5</text>
<line x1="819.5" y1="226.5" x2="819.5" y2="231.4" stroke="#000" stroke-width="1.11"/>
<text transform="translate(819.30,242.90) scale(1.06,1)" text-anchor="middle" class="t">3.0</text>
<line x1="120.5" y1="96.5" x2="115.6" y2="96.5" stroke="#000" stroke-width="1.11"/>
<text transform="translate(109.90,100.00) scale(1.06,1)" text-anchor="end" class="t">0.1</text>
<line x1="120.5" y1="142.5" x2="115.6" y2="142.5" stroke="#000" stroke-width="1.11"/>
<text transform="translate(109.90,146.00) scale(1.06,1)" text-anchor="end" class="t">0.0</text>
<line x1="120.5" y1="187.5" x2="115.6" y2="187.5" stroke="#000" stroke-width="1.11"/>
<text transform="translate(108.90,191.00) scale(1.06,1)" text-anchor="end" class="t">0.1</text>
<rect x="83.80" y="186.90" width="7.1" height="1.15" fill="#000"/>
<text transform="translate(75.00,143.00) rotate(-90) scale(1.1,1)" text-anchor="middle" class="t">Channel 1</text>
<clipPath id="c2"><rect x="120.5" y="259.5" width="744.0" height="168.0"/></clipPath>
<line x1="143.5" y1="259.5" x2="143.5" y2="427.5" stroke="#b0b0b0" stroke-width="1.11"/>
<line x1="255.5" y1="259.5" x2="255.5" y2="427.5" stroke="#b0b0b0" stroke-width="1.11"/>
<line x1="368.5" y1="259.5" x2="368.5" y2="427.5" stroke="#b0b0b0" stroke-width="1.11"/>
<line x1="481.5" y1="259.5" x2="481.5" y2="427.5" stroke="#b0b0b0" stroke-width="1.11"/>
<line x1="593.5" y1="259.5" x2="593.5" y2="427.5" stroke="#b0b0b0" stroke-width="1.11"/>
<line x1="706.5" y1="259.5" x2="706.5" y2="427.5" stroke="#b0b0b0" stroke-width="1.11"/>
<line x1="819.5" y1="259.5" x2="819.5" y2="427.5" stroke="#b0b0b0" stroke-width="1.11"/>
<line x1="120.5" y1="275.5" x2="864.5" y2="275.5" stroke="#b0b0b0" stroke-width="1.11"/>
<line x1="120.5" y1="299.5" x2="864.5" y2="299.5" stroke="#b0b0b0" stroke-width="1.11"/>
<line x1="120.5" y1="323.5" x2="864.5" y2="323.5" stroke="#b0b0b0" stroke-width="1.11"/>
<line x1="120.5" y1="347.5" x2="864.5" y2="347.5" stroke="#b0b0b0" stroke-width="1.11"/>
<line x1="120.5" y1="371.5" x2="864.5" y2="371.5" stroke="#b0b0b0" stroke-width="1.11"/>
<line x1="120.5" y1="395.5" x2="864.5" y2="395.5" stroke="#b0b0b0" stroke-width="1.11"/>
<line x1="120.5" y1="419.5" x2="864.5" y2="419.5" stroke="#b0b0b0" stroke-width="1.11"/>
<polygon clip-path="url(#c2)" fill="#1f77b4" points="142.10,337.38 143.66,337.38 143.66,338.25 144.79,338.25 144.79,345.25 145.79,345.25 145.79,340.00 147.29,340.00 147.29,340.88 147.91,340.88 147.91,345.25 148.91,345.25 148.91,337.38 151.04,337.38 151.04,340.00 152.04,340.00 152.04,341.75 154.16,341.75 154.16,341.40 156.29,341.40 156.29,340.88 157.29,340.88 157.29,339.13 158.41,339.13 158.41,337.90 159.41,337.90 159.41,336.50 161.54,336.50 161.54,334.75 162.54,334.75 162.54,334.40 163.66,334.40 163.66,334.75 164.66,334.75 164.66,335.63 166.79,335.63 166.79,334.75 167.79,334.75 167.79,334.40 168.91,334.40 168.91,334.75 169.91,334.75 169.91,335.10 171.04,335.10 171.04,333.35 172.04,333.35 172.04,333.88 174.16,333.88 174.16,326.00 175.16,326.00 175.16,326.35 176.29,326.35 176.29,328.63 177.16,328.63 177.16,308.85 178.04,308.85 178.04,309.38 179.04,309.38 179.04,310.25 179.91,310.25 179.91,322.50 180.79,322.50 180.79,304.13 181.79,304.13 181.79,295.90 183.79,295.90 183.79,320.75 184.66,320.75 184.66,315.50 185.66,315.50 185.66,314.63 186.29,314.63 186.29,312.00 187.79,312.00 187.79,312.88 188.79,312.88 188.79,311.13 189.91,311.13 189.91,306.40 192.04,306.40 192.04,307.63 193.04,307.63 193.04,308.50 194.04,308.50 194.04,310.25 195.16,310.25 195.16,302.90 196.66,302.90 196.66,304.13 197.29,304.13 197.29,310.25 198.29,310.25 198.29,296.60 199.29,296.60 199.29,297.13 200.41,297.13 200.41,298.88 201.41,298.88 201.41,298.00 202.54,298.00 202.54,300.63 203.54,300.63 203.54,298.35 204.54,298.35 204.54,298.88 205.66,298.88 205.66,304.13 206.66,304.13 206.66,296.25 208.79,296.25 208.79,300.63 210.91,300.63 210.91,304.65 211.91,304.65 211.91,297.13 213.04,297.13 213.04,312.88 214.04,312.88 214.04,294.50 215.04,294.50 215.04,294.85 216.16,294.85 216.16,304.13 217.16,304.13 217.16,296.25 218.66,296.25 218.66,297.13 219.29,297.13 219.29,309.38 220.29,309.38 220.29,309.90 221.41,309.90 221.41,298.88 223.54,298.88 223.54,306.75 224.54,306.75 224.54,307.63 225.54,307.63 225.54,305.00 226.16,305.00 226.16,286.10 228.16,286.10 228.16,289.25 228.79,289.25 228.79,290.13 229.79,290.13 229.79,300.63 230.79,300.63 230.79,291.88 232.41,291.88 232.41,292.75 232.91,292.75 232.91,303.25 234.04,303.25 234.04,287.50 235.04,287.50 235.04,299.75 236.04,299.75 236.04,289.25 237.16,289.25 237.16,288.90 238.16,288.90 238.16,288.38 239.29,288.38 239.29,293.63 240.29,293.63 240.29,285.40 241.29,285.40 241.29,284.88 242.41,284.88 242.41,274.90 243.29,274.90 243.29,275.25 244.16,275.25 244.16,291.00 247.29,291.00 247.29,307.63 248.29,307.63 248.29,308.50 250.41,308.50 250.41,309.38 251.54,309.38 251.54,312.88 252.54,312.88 252.54,296.25 254.66,296.25 254.66,312.00 255.54,312.00 255.54,287.85 256.16,287.85 256.16,288.38 257.04,288.38 257.04,310.25 258.16,310.25 258.16,294.50 260.29,294.50 260.29,299.75 261.29,299.75 261.29,299.40 261.91,299.40 261.91,294.15 263.91,294.15 263.91,295.38 264.41,295.38 264.41,296.25 265.54,296.25 265.54,302.38 266.54,302.38 266.54,301.50 267.54,301.50 267.54,300.63 268.16,300.63 268.16,294.50 269.66,294.50 269.66,305.00 270.79,305.00 270.79,304.13 271.79,304.13 271.79,300.63 272.79,300.63 272.79,299.75 273.91,299.75 273.91,290.13 274.91,290.13 274.91,290.65 276.04,290.65 276.04,300.63 277.04,300.63 277.04,295.38 278.04,295.38 278.04,294.50 279.16,294.50 279.16,294.15 280.16,294.15 280.16,294.85 281.29,294.85 281.29,295.38 282.29,295.38 282.29,299.75 283.29,299.75 283.29,300.63 284.41,300.63 284.41,299.40 285.91,299.40 285.91,312.88 286.54,312.88 286.54,313.75 287.54,313.75 287.54,314.63 288.54,314.63 288.54,295.38 290.54,295.38 290.54,299.75 291.54,299.75 291.54,291.00 292.66,291.00 292.66,291.88 293.66,291.88 293.66,277.88 294.79,277.88 294.79,285.75 295.79,285.75 295.79,266.50 296.79,266.50 296.79,266.85 297.66,266.85 297.66,285.75 299.66,285.75 299.66,298.00 300.66,298.00 300.66,303.25 302.79,303.25 302.79,302.38 303.79,302.38 303.79,299.75 304.91,299.75 304.91,281.38 305.91,281.38 305.91,281.90 307.04,281.90 307.04,298.88 308.04,298.88 308.04,278.40 309.04,278.40 309.04,279.10 310.16,279.10 310.16,284.00 311.16,284.00 311.16,285.75 312.04,285.75 312.04,301.50 312.91,301.50 312.91,294.50 314.04,294.50 314.04,281.38 315.04,281.38 315.04,281.90 316.04,281.90 316.04,295.38 317.66,295.38 317.66,291.00 319.66,291.00 319.66,306.75 320.29,306.75 320.29,307.63 321.16,307.63 321.16,281.38 322.04,281.38 322.04,281.90 323.04,281.90 323.04,281.38 324.16,281.38 324.16,309.38 325.16,309.38 325.16,310.25 326.29,310.25 326.29,291.00 327.29,291.00 327.29,306.75 328.29,306.75 328.29,305.00 329.41,305.00 329.41,304.13 330.41,304.13 330.41,303.25 331.04,303.25 331.04,302.38 332.54,302.38 332.54,312.00 333.54,312.00 333.54,305.88 334.66,305.88 334.66,305.00 335.66,305.00 335.66,301.50 336.29,301.50 336.29,298.00 338.29,298.00 338.29,307.63 338.79,307.63 338.79,308.50 339.91,308.50 339.91,315.50 340.91,315.50 340.91,284.00 342.04,284.00 342.04,284.35 342.91,284.35 342.91,315.50 343.79,315.50 343.79,294.50 345.29,294.50 345.29,295.38 345.79,295.38 345.79,314.63 346.91,314.63 346.91,298.00 348.41,298.00 348.41,298.88 349.04,298.88 349.04,313.75 350.04,313.75 350.04,294.50 352.16,294.50 352.16,294.15 353.16,294.15 353.16,300.63 354.29,300.63 354.29,316.38 355.29,316.38 355.29,318.13 356.29,318.13 356.29,321.63 357.41,321.63 357.41,323.38 358.41,323.38 358.41,324.25 359.54,324.25 359.54,323.38 361.04,323.38 361.04,324.25 362.16,324.25 362.16,322.50 364.16,322.50 364.16,323.38 364.79,323.38 364.79,329.50 365.79,329.50 365.79,330.38 366.79,330.38 366.79,325.13 367.91,325.13 367.91,314.10 368.91,314.10 368.91,314.63 370.04,314.63 370.04,330.38 371.04,330.38 371.04,319.00 372.04,319.00 372.04,319.35 373.41,319.35 373.41,331.25 375.16,331.25 375.16,329.69 376.29,329.69 376.29,327.29 378.29,327.29 378.29,330.21 380.41,330.21 380.41,327.60 382.54,327.60 382.54,330.73 385.16,330.73 385.16,327.08 387.66,327.08 387.66,334.38 389.54,334.38 389.54,331.25 391.41,331.25 391.41,332.81 393.66,332.81 393.66,333.33 396.29,333.33 396.29,330.21 398.66,330.21 398.66,336.46 401.04,336.46 401.04,338.02 403.29,338.02 403.29,337.29 404.66,337.29 404.66,338.00 405.54,338.00 405.54,338.75 406.41,338.75 406.41,341.50 407.29,341.50 407.29,340.75 408.29,340.75 408.29,341.00 409.29,341.00 409.29,342.50 410.29,342.50 410.29,341.25 411.29,341.25 411.29,341.50 412.16,341.50 412.16,342.50 412.91,342.50 412.91,342.00 413.79,342.00 413.79,342.25 415.79,342.25 415.79,342.50 416.66,342.50 416.66,343.75 417.54,343.75 417.54,344.25 418.54,344.25 418.54,344.00 419.54,344.00 419.54,344.50 420.54,344.50 420.54,344.75 421.54,344.75 421.54,345.00 423.54,345.00 423.54,345.25 427.54,345.25 427.54,345.50 429.54,345.50 429.54,345.00 431.54,345.00 431.54,345.50 432.54,345.50 432.54,344.75 433.54,344.75 433.54,345.00 434.54,345.00 434.54,345.25 435.54,345.25 435.54,344.75 436.54,344.75 436.54,345.00 437.54,345.00 437.54,344.25 438.54,344.25 438.54,344.50 439.54,344.50 439.54,344.00 440.54,344.00 440.54,344.50 441.54,344.50 441.54,344.00 442.54,344.00 442.54,344.25 444.54,344.25 444.54,344.00 445.54,344.00 445.54,343.50 446.54,343.50 446.54,343.25 447.54,343.25 447.54,343.00 448.54,343.00 448.54,343.25 449.54,343.25 449.54,344.00 451.16,344.00 451.16,319.35 452.04,319.35 452.04,319.00 453.16,319.00 453.16,330.38 454.16,330.38 454.16,317.25 455.29,317.25 455.29,317.60 456.29,317.60 456.29,326.00 457.29,326.00 457.29,314.63 458.41,314.63 458.41,315.15 458.91,315.15 458.91,311.13 460.54,311.13 460.54,315.50 461.54,315.50 461.54,308.50 462.54,308.50 462.54,308.15 463.66,308.15 463.66,315.50 464.66,315.50 464.66,309.38 465.79,309.38 465.79,308.85 466.79,308.85 466.79,307.63 467.79,307.63 467.79,304.65 469.91,304.65 469.91,313.75 471.04,313.75 471.04,304.30 472.04,304.30 472.04,304.65 473.04,304.65 473.04,313.75 474.16,313.75 474.16,299.40 475.16,299.40 475.16,299.75 476.04,299.75 476.04,313.75 476.79,313.75 476.79,295.38 477.66,295.38 477.66,295.90 478.66,295.90 478.66,308.50 479.54,308.50 479.54,297.13 480.41,297.13 480.41,297.65 481.54,297.65 481.54,309.38 482.54,309.38 482.54,300.63 483.54,300.63 483.54,313.75 484.66,313.75 484.66,307.63 485.66,307.63 485.66,315.50 486.79,315.50 486.79,313.75 487.79,313.75 487.79,312.88 488.41,312.88 488.41,308.85 490.41,308.85 490.41,313.75 490.91,313.75 490.91,319.00 492.04,319.00 492.04,299.40 493.04,299.40 493.04,299.75 493.91,299.75 493.91,319.00 494.79,319.00 494.79,301.15 496.29,301.15 496.29,315.50 496.91,315.50 496.91,322.50 497.91,322.50 497.91,309.38 500.04,309.38 500.04,315.50 501.04,315.50 501.04,305.35 502.16,305.35 502.16,305.88 503.16,305.88 503.16,319.00 504.29,319.00 504.29,317.25 505.29,317.25 505.29,316.38 506.29,316.38 506.29,313.75 507.41,313.75 507.41,312.00 508.41,312.00 508.41,302.38 509.04,302.38 509.04,301.50 510.54,301.50 510.54,303.25 511.41,303.25 511.41,299.75 512.79,299.75 512.79,305.00 513.29,305.00 513.29,305.88 514.41,305.88 514.41,305.00 515.91,305.00 515.91,305.88 516.54,305.88 516.54,313.75 517.41,313.75 517.41,289.60 518.29,289.60 518.29,290.13 519.29,290.13 519.29,317.25 520.29,317.25 520.29,295.38 521.16,295.38 521.16,295.90 522.04,295.90 522.04,317.25 523.16,317.25 523.16,314.63 523.66,314.63 523.66,313.75 525.29,313.75 525.29,320.75 526.29,320.75 526.29,309.38 526.91,309.38 526.91,308.15 528.41,308.15 528.41,315.50 529.41,315.50 529.41,306.75 531.54,306.75 531.54,310.25 532.54,310.25 532.54,312.00 533.66,312.00 533.66,310.25 534.16,310.25 534.16,308.50 536.16,308.50 536.16,309.38 536.79,309.38 536.79,313.75 537.79,313.75 537.79,309.38 538.91,309.38 538.91,305.00 539.41,305.00 539.41,298.35 541.41,298.35 541.41,309.38 542.04,309.38 542.04,311.13 543.04,311.13 543.04,314.63 544.16,314.63 544.16,313.75 545.16,313.75 545.16,305.88 545.79,305.88 545.79,293.63 547.79,293.63 547.79,294.50 548.29,294.50 548.29,298.88 549.41,298.88 549.41,299.75 550.41,299.75 550.41,311.13 551.54,311.13 551.54,312.00 552.54,312.00 552.54,305.00 553.54,305.00 553.54,304.13 554.66,304.13 554.66,298.35 555.66,298.35 555.66,298.88 556.79,298.88 556.79,302.38 557.79,302.38 557.79,305.00 558.79,305.00 558.79,297.13 560.91,297.13 560.91,305.00 562.04,305.00 562.04,296.25 563.04,296.25 563.04,298.00 564.04,298.00 564.04,293.63 565.16,293.63 565.16,292.75 566.04,292.75 566.04,289.25 566.91,289.25 566.91,288.90 567.91,288.90 567.91,308.50 569.04,308.50 569.04,291.88 570.04,291.88 570.04,292.40 571.04,292.40 571.04,307.63 572.16,307.63 572.16,291.88 573.16,291.88 573.16,291.00 574.29,291.00 574.29,290.65 575.29,290.65 575.29,298.88 576.29,298.88 576.29,291.88 577.91,291.88 577.91,292.75 578.41,292.75 578.41,304.13 579.54,304.13 579.54,305.00 580.54,305.00 580.54,305.88 581.54,305.88 581.54,308.15 582.66,308.15 582.66,308.50 583.66,308.50 583.66,320.75 584.79,320.75 584.79,312.88 585.29,312.88 585.29,312.00 586.79,312.00 586.79,312.88 587.91,312.88 587.91,308.50 588.91,308.50 588.91,307.63 590.04,307.63 590.04,286.10 592.04,286.10 592.04,298.00 592.66,298.00 592.66,305.88 593.66,305.88 593.66,302.38 594.79,302.38 594.79,320.75 595.79,320.75 595.79,313.75 597.29,313.75 597.29,314.63 597.66,314.63 597.66,330.38 598.54,330.38 598.54,300.63 599.66,300.63 599.66,300.10 600.66,300.10 600.66,310.25 602.79,310.25 602.79,306.75 603.79,306.75 603.79,305.88 605.91,305.88 605.91,306.40 607.04,306.40 607.04,301.15 608.04,301.15 608.04,301.50 609.04,301.50 609.04,310.25 610.16,310.25 610.16,297.13 611.16,297.13 611.16,297.65 612.29,297.65 612.29,308.50 613.29,308.50 613.29,299.75 614.29,299.75 614.29,299.40 615.41,299.40 615.41,305.88 616.41,305.88 616.41,294.50 618.54,294.50 618.54,290.65 619.54,290.65 619.54,291.00 620.41,291.00 620.41,305.00 621.29,305.00 621.29,296.25 622.91,296.25 622.91,314.63 623.41,314.63 623.41,319.00 624.54,319.00 624.54,311.13 625.04,311.13 625.04,310.25 626.54,310.25 626.54,320.75 627.66,320.75 627.66,304.13 628.16,304.13 628.16,303.25 629.79,303.25 629.79,306.75 630.79,306.75 630.79,299.75 631.79,299.75 631.79,312.88 632.91,312.88 632.91,298.00 635.04,298.00 635.04,294.50 637.04,294.50 637.04,308.50 638.16,308.50 638.16,293.10 639.16,293.10 639.16,293.63 640.29,293.63 640.29,310.25 641.29,310.25 641.29,294.15 642.16,294.15 642.16,294.50 643.04,294.50 643.04,306.75 644.04,306.75 644.04,298.88 645.16,298.88 645.16,299.40 646.16,299.40 646.16,308.50 647.29,308.50 647.29,301.50 648.29,301.50 648.29,310.25 649.29,310.25 649.29,302.38 650.41,302.38 650.41,310.25 651.41,310.25 651.41,294.50 652.54,294.50 652.54,294.15 653.54,294.15 653.54,309.38 654.54,309.38 654.54,301.15 655.66,301.15 655.66,301.50 656.66,301.50 656.66,315.50 658.79,315.50 658.79,327.75 659.79,327.75 659.79,319.88 661.41,319.88 661.41,320.75 661.91,320.75 661.91,322.50 663.04,322.50 663.04,316.38 665.04,316.38 665.04,317.25 666.16,317.25 666.16,315.85 667.16,315.85 667.16,316.38 668.29,316.38 668.29,320.75 669.29,320.75 669.29,315.50 670.29,315.50 670.29,308.50 670.91,308.50 670.91,302.38 672.41,302.38 672.41,315.50 673.54,315.50 673.54,308.50 674.04,308.50 674.04,295.38 675.54,295.38 675.54,313.75 676.66,313.75 676.66,289.25 677.66,289.25 677.66,289.60 678.54,289.60 678.54,315.50 679.41,315.50 679.41,291.00 680.29,291.00 680.29,291.35 681.16,291.35 681.16,313.75 682.29,313.75 682.29,307.63 682.79,307.63 682.79,305.00 684.29,305.00 684.29,315.50 685.41,315.50 685.41,307.63 686.41,307.63 686.41,322.50 687.54,322.50 687.54,305.00 688.54,305.00 688.54,304.13 689.54,304.13 689.54,297.13 690.66,297.13 690.66,297.65 691.66,297.65 691.66,307.63 692.79,307.63 692.79,303.25 694.29,303.25 694.29,304.13 694.79,304.13 694.79,313.75 696.91,313.75 696.91,314.63 698.04,314.63 698.04,315.50 699.04,315.50 699.04,310.25 700.04,310.25 700.04,307.63 701.66,307.63 701.66,298.00 703.29,298.00 703.29,315.50 704.29,315.50 704.29,298.00 705.29,298.00 705.29,297.65 706.41,297.65 706.41,317.25 707.41,317.25 707.41,296.25 709.54,296.25 709.54,318.65 710.54,318.65 710.54,302.38 712.16,302.38 712.16,303.25 712.66,303.25 712.66,317.25 713.54,317.25 713.54,305.00 714.91,305.00 714.91,306.75 715.54,306.75 715.54,319.88 716.54,319.88 716.54,307.63 718.66,307.63 718.66,310.25 719.66,310.25 719.66,309.38 721.16,309.38 721.16,310.25 721.79,310.25 721.79,313.75 722.79,313.75 722.79,304.13 724.91,304.13 724.91,305.00 726.04,305.00 726.04,296.25 728.04,296.25 728.04,310.25 729.16,310.25 729.16,296.25 730.16,296.25 730.16,296.60 731.04,296.60 731.04,310.25 731.91,310.25 731.91,304.65 733.04,304.65 733.04,312.00 734.04,312.00 734.04,307.63 735.54,307.63 735.54,308.50 736.16,308.50 736.16,313.75 737.16,313.75 737.16,309.38 739.16,309.38 739.16,323.38 740.54,323.38 740.54,311.13 742.66,311.13 742.66,309.90 743.54,309.90 743.54,298.88 745.16,298.88 745.16,328.63 746.04,328.63 746.04,315.50 747.91,315.50 747.91,323.38 748.91,323.38 748.91,314.10 750.41,314.10 750.41,317.25 751.04,317.25 751.04,320.75 752.04,320.75 752.04,317.25 753.16,317.25 753.16,312.00 754.16,312.00 754.16,311.13 754.79,311.13 754.79,307.63 756.79,307.63 756.79,308.50 757.16,308.50 757.16,323.38 758.04,323.38 758.04,308.15 758.91,308.15 758.91,308.50 759.79,308.50 759.79,324.25 760.79,324.25 760.79,319.00 761.91,319.00 761.91,319.88 762.91,319.88 762.91,319.00 764.04,319.00 764.04,319.88 765.04,319.88 765.04,313.75 766.04,313.75 766.04,306.75 767.16,306.75 767.16,302.90 768.16,302.90 768.16,302.38 769.29,302.38 769.29,315.50 770.29,315.50 770.29,319.00 771.29,319.00 771.29,320.75 772.41,320.75 772.41,332.13 773.41,332.13 773.41,306.75 774.54,306.75 774.54,307.63 775.54,307.63 775.54,305.88 776.16,305.88 776.16,305.00 778.16,305.00 778.16,306.75 778.54,306.75 778.54,334.75 779.41,334.75 779.41,322.50 779.91,322.50 779.91,321.63 781.54,321.63 781.54,322.50 782.54,322.50 782.54,320.75 784.04,320.75 784.04,325.13 785.66,325.13 785.66,329.50 786.79,329.50 786.79,330.38 787.79,330.38 787.79,318.13 788.79,318.13 788.79,318.65 789.91,318.65 789.91,331.25 790.91,331.25 790.91,330.38 792.04,330.38 792.04,334.75 793.04,334.75 793.04,333.00 793.66,333.00 793.66,323.38 795.66,323.38 795.66,332.13 796.16,332.13 796.16,333.00 797.29,333.00 797.29,332.13 798.29,332.13 798.29,327.40 799.29,327.40 799.29,327.75 799.91,327.75 799.91,325.13 801.41,325.13 801.41,326.00 802.54,326.00 802.54,325.13 803.54,325.13 803.54,325.65 804.54,325.65 804.54,327.75 805.66,327.75 805.66,326.88 807.16,326.88 807.16,328.63 807.79,328.63 807.79,334.37 808.79,334.37 808.79,333.44 809.79,333.44 809.79,333.91 810.66,333.91 810.66,334.37 811.66,334.37 811.66,332.03 812.54,332.03 812.54,329.22 813.54,329.22 813.54,329.69 814.41,329.69 814.41,334.84 815.41,334.84 815.41,334.37 817.29,334.37 817.29,337.19 819.16,337.19 819.16,338.12 820.04,338.12 820.04,337.19 821.04,337.19 821.04,336.25 821.91,336.25 821.91,333.44 822.91,333.44 822.91,333.91 823.79,333.91 823.79,339.06 824.79,339.06 824.79,340.00 825.66,340.00 825.66,339.06 826.66,339.06 826.66,338.12 827.54,338.12 827.54,337.19 828.54,337.19 828.54,336.72 830.41,336.72 830.41,336.25 831.29,336.25 831.29,337.66 832.29,337.66 832.29,338.12 833.16,338.12 833.16,340.00 834.16,340.00 834.16,340.47 835.04,340.47 835.04,339.53 836.04,339.53 836.04,340.00 836.91,340.00 836.91,341.41 837.91,341.41 837.91,342.34 838.79,342.34 838.79,342.81 839.79,342.81 839.79,342.34 841.66,342.34 841.66,343.28 844.41,343.28 844.41,343.75 845.41,343.75 845.41,343.28 847.29,343.28 847.29,342.81 848.16,342.81 848.16,342.34 849.16,342.34 849.16,343.28 850.04,343.28 850.04,343.75 850.41,343.75 850.41,342.34 852.41,342.34 852.41,343.28 852.91,343.28 852.91,343.75 853.79,343.75 853.79,343.28 854.79,343.28 854.79,343.75 855.66,343.75 855.66,344.22 857.54,344.22 857.54,345.16 861.29,345.16 861.29,345.44 862.54,345.44 862.54,345.16 864.48,345.16 864.48,347.97 862.54,347.97 862.54,348.25 861.29,348.25 861.29,348.44 859.41,348.44 859.41,348.91 858.54,348.91 858.54,349.37 857.54,349.37 857.54,349.84 855.66,349.84 855.66,350.31 855.29,350.31 855.29,351.72 853.29,351.72 853.29,349.84 852.91,349.84 852.91,350.31 851.91,350.31 851.91,349.84 851.04,349.84 851.04,350.31 850.04,350.31 850.04,349.84 849.16,349.84 849.16,350.31 847.29,350.31 847.29,349.84 846.29,349.84 846.29,350.31 845.41,350.31 845.41,349.84 844.41,349.84 844.41,350.31 843.54,350.31 843.54,350.78 842.54,350.78 842.54,350.31 841.66,350.31 841.66,350.78 840.66,350.78 840.66,351.25 839.79,351.25 839.79,351.72 837.91,351.72 837.91,352.19 836.91,352.19 836.91,353.12 836.04,353.12 836.04,353.59 835.54,353.59 835.54,354.53 833.54,354.53 833.54,353.12 833.16,353.12 833.16,353.59 832.29,353.59 832.29,355.00 831.79,355.00 831.79,359.69 829.79,359.69 829.79,356.41 829.41,356.41 829.41,355.00 828.54,355.00 828.54,356.87 827.04,356.87 827.04,355.94 826.66,355.94 826.66,356.41 826.16,356.41 826.16,357.81 824.79,357.81 824.79,355.00 823.79,355.00 823.79,361.56 823.41,361.56 823.41,362.50 821.41,362.50 821.41,355.94 821.04,355.94 821.04,355.00 820.04,355.00 820.04,357.34 819.16,357.34 819.16,355.00 818.16,355.00 818.16,355.94 817.29,355.94 817.29,356.41 816.29,356.41 816.29,356.87 815.41,356.87 815.41,357.34 814.91,357.34 814.91,360.16 813.54,360.16 813.54,358.75 812.54,358.75 812.54,360.16 811.66,360.16 811.66,359.69 810.66,359.69 810.66,360.16 809.79,360.16 809.79,359.22 808.79,359.22 808.79,357.34 807.79,357.34 807.79,358.13 807.16,358.13 807.16,364.25 805.66,364.25 805.66,363.38 804.54,363.38 804.54,364.25 802.54,364.25 802.54,362.50 801.41,362.50 801.41,366.00 799.91,366.00 799.91,364.25 799.29,364.25 799.29,361.63 798.29,361.63 798.29,362.50 797.29,362.50 797.29,359.88 796.16,359.88 796.16,371.25 794.04,371.25 794.04,360.75 793.04,360.75 793.04,366.00 792.41,366.00 792.41,367.75 790.91,367.75 790.91,355.50 789.91,355.50 789.91,371.25 787.79,371.25 787.79,361.63 786.79,361.63 786.79,362.50 785.66,362.50 785.66,367.75 784.04,367.75 784.04,378.25 782.04,378.25 782.04,377.38 781.54,377.38 781.54,364.25 780.41,364.25 780.41,373.88 779.41,373.88 779.41,361.63 778.29,361.63 778.29,375.63 777.79,375.63 777.79,392.25 776.29,392.25 776.29,377.38 775.16,377.38 775.16,379.13 773.66,379.13 773.66,376.50 773.04,376.50 773.04,363.38 772.04,363.38 772.04,373.00 771.04,373.00 771.04,373.88 769.91,373.88 769.91,380.00 769.41,380.00 769.41,388.75 767.79,388.75 767.79,380.00 766.79,380.00 766.79,382.63 765.29,382.63 765.29,380.00 764.66,380.00 764.66,372.13 763.66,372.13 763.66,371.25 762.54,371.25 762.54,366.00 761.54,366.00 761.54,373.88 760.54,373.88 760.54,376.50 759.91,376.50 759.91,377.38 758.41,377.38 758.41,376.50 757.29,376.50 757.29,381.75 755.79,381.75 755.79,380.88 754.16,380.88 754.16,377.38 753.16,377.38 753.16,366.88 752.04,366.88 752.04,377.38 751.54,377.38 751.54,380.88 750.04,380.88 750.04,379.13 748.91,379.13 748.91,380.88 747.91,380.88 747.91,380.00 746.79,380.00 746.79,381.75 745.79,381.75 745.79,377.38 744.79,377.38 744.79,389.63 743.66,389.63 743.66,373.88 742.66,373.88 742.66,376.50 741.54,376.50 741.54,378.25 741.04,378.25 741.04,387.00 739.04,387.00 739.04,386.13 738.29,386.13 738.29,381.75 737.16,381.75 737.16,371.25 736.16,371.25 736.16,376.50 735.04,376.50 735.04,377.38 734.54,377.38 734.54,383.50 733.04,383.50 733.04,377.38 731.91,377.38 731.91,384.38 730.91,384.38 730.91,380.00 729.79,380.00 729.79,385.25 729.29,385.25 729.29,387.00 727.79,387.00 727.79,368.63 726.66,368.63 726.66,382.63 725.04,382.63 725.04,384.38 723.04,384.38 723.04,383.50 722.54,383.50 722.54,379.13 721.41,379.13 721.41,378.25 720.41,378.25 720.41,377.38 719.29,377.38 719.29,378.25 718.29,378.25 718.29,383.50 717.66,383.50 717.66,390.50 715.66,390.50 715.66,387.88 715.16,387.88 715.16,383.50 714.04,383.50 714.04,373.00 713.16,373.00 713.16,383.50 712.79,383.50 712.79,391.38 711.29,391.38 711.29,373.00 710.29,373.00 710.29,382.63 709.66,382.63 709.66,386.13 707.66,386.13 707.66,385.25 707.04,385.25 707.04,382.63 706.04,382.63 706.04,395.75 705.04,395.75 705.04,383.50 703.91,383.50 703.91,395.75 702.91,395.75 702.91,373.00 702.04,373.00 702.04,387.00 700.66,387.00 700.66,386.13 700.04,386.13 700.04,382.63 699.04,382.63 699.04,380.88 698.04,380.88 698.04,380.00 696.91,380.00 696.91,378.25 695.91,378.25 695.91,380.00 694.79,380.00 694.79,387.00 692.79,387.00 692.79,383.50 691.66,383.50 691.66,404.50 690.79,404.50 690.79,381.75 689.91,381.75 689.91,399.25 688.41,399.25 688.41,388.75 687.79,388.75 687.79,384.38 686.79,384.38 686.79,381.75 685.79,381.75 685.79,387.88 684.66,387.88 684.66,374.75 683.66,374.75 683.66,389.63 682.16,389.63 682.16,388.75 681.54,388.75 681.54,379.13 680.54,379.13 680.54,389.63 679.41,389.63 679.41,381.75 678.41,381.75 678.41,388.75 676.91,388.75 676.91,387.00 676.29,387.00 676.29,380.88 675.29,380.88 675.29,397.50 674.16,397.50 674.16,378.25 673.16,378.25 673.16,390.50 671.66,390.50 671.66,389.63 670.04,389.63 670.04,388.75 668.91,388.75 668.91,372.13 668.04,372.13 668.04,387.00 666.16,387.00 666.16,371.25 665.04,371.25 665.04,382.63 663.54,382.63 663.54,372.13 663.04,372.13 663.04,371.25 661.91,371.25 661.91,380.00 661.41,380.00 661.41,381.75 659.79,381.75 659.79,367.40 658.91,367.40 658.91,384.38 658.04,384.38 658.04,376.50 657.16,376.50 657.16,388.75 656.79,388.75 656.79,389.63 655.29,389.63 655.29,388.75 654.29,388.75 654.29,389.63 653.16,389.63 653.16,391.38 652.16,391.38 652.16,392.25 651.54,392.25 651.54,398.38 649.54,398.38 649.54,395.75 649.04,395.75 649.04,394.88 645.79,394.88 645.79,385.25 644.79,385.25 644.79,398.38 643.79,398.38 643.79,384.38 642.66,384.38 642.66,393.13 641.16,393.13 641.16,392.25 640.54,392.25 640.54,387.00 639.54,387.00 639.54,387.88 638.54,387.88 638.54,388.75 637.41,388.75 637.41,389.63 635.29,389.63 635.29,390.50 634.79,390.50 634.79,407.13 633.29,407.13 633.29,387.00 632.16,387.00 632.16,407.13 630.66,407.13 630.66,406.25 630.04,406.25 630.04,381.75 629.04,381.75 629.04,395.75 628.04,395.75 628.04,377.38 626.91,377.38 626.91,380.88 625.41,380.88 625.41,380.00 623.79,380.00 623.79,372.13 622.91,372.13 622.91,383.50 622.04,383.50 622.04,391.38 617.79,391.38 617.79,390.50 616.79,390.50 616.79,391.38 615.79,391.38 615.79,382.63 614.66,382.63 614.66,391.38 613.66,391.38 613.66,385.25 612.54,385.25 612.54,392.25 610.54,392.25 610.54,390.50 609.41,390.50 609.41,391.38 608.91,391.38 608.91,398.38 606.91,398.38 606.91,394.00 606.29,394.00 606.29,389.63 605.29,389.63 605.29,394.00 603.66,394.00 603.66,387.00 603.16,387.00 603.16,384.38 602.04,384.38 602.04,382.63 601.04,382.63 601.04,383.50 600.04,383.50 600.04,384.38 599.41,384.38 599.41,387.00 597.41,387.00 597.41,377.38 596.79,377.38 596.79,368.63 595.79,368.63 595.79,376.50 595.16,376.50 595.16,377.38 593.66,377.38 593.66,371.25 592.66,371.25 592.66,385.25 591.54,385.25 591.54,387.00 591.04,387.00 591.04,394.88 589.04,394.88 589.04,394.00 588.29,394.00 588.29,382.63 587.16,382.63 587.16,388.75 585.66,388.75 585.66,387.88 585.04,387.88 585.04,387.00 583.04,387.00 583.04,380.88 581.91,380.88 581.91,384.38 580.41,384.38 580.41,383.50 579.79,383.50 579.79,382.63 578.79,382.63 578.79,385.25 578.16,385.25 578.16,399.25 576.16,399.25 576.16,397.50 575.66,397.50 575.66,386.13 574.54,386.13 574.54,397.50 574.04,397.50 574.04,403.63 572.04,403.63 572.04,393.13 570.79,393.13 570.79,392.25 569.66,392.25 569.66,391.38 567.54,391.38 567.54,389.63 566.54,389.63 566.54,390.50 565.54,390.50 565.54,387.88 564.41,387.88 564.41,389.63 563.91,389.63 563.91,400.13 561.91,400.13 561.91,387.00 561.66,387.00 561.66,381.75 560.54,381.75 560.54,388.75 559.04,388.75 559.04,386.13 558.54,386.13 558.54,385.25 557.41,385.25 557.41,384.38 556.41,384.38 556.41,382.63 555.29,382.63 555.29,375.63 554.29,375.63 554.29,386.13 552.66,386.13 552.66,387.00 551.16,387.00 551.16,385.25 550.04,385.25 550.04,387.00 548.04,387.00 548.04,387.88 547.41,387.88 547.41,394.88 545.41,394.88 545.41,391.38 543.79,391.38 543.79,384.38 542.79,384.38 542.79,388.75 541.66,388.75 541.66,399.25 539.54,399.25 539.54,398.38 538.54,398.38 538.54,381.75 537.54,381.75 537.54,392.25 536.41,392.25 536.41,391.38 535.41,391.38 535.41,400.13 534.29,400.13 534.29,377.38 533.29,377.38 533.29,396.63 531.79,396.63 531.79,383.50 531.16,383.50 531.16,375.63 530.16,375.63 530.16,378.25 529.54,378.25 529.54,381.75 528.04,381.75 528.04,373.00 527.04,373.00 527.04,385.25 525.41,385.25 525.41,384.38 524.91,384.38 524.91,372.13 523.79,372.13 523.79,380.00 522.79,380.00 522.79,379.13 521.79,379.13 521.79,381.75 520.16,381.75 520.16,380.88 519.66,380.88 519.66,370.38 518.54,370.38 518.54,392.25 517.04,392.25 517.04,391.38 516.54,391.38 516.54,388.75 515.41,388.75 515.41,382.63 514.41,382.63 514.41,387.88 512.29,387.88 512.29,396.63 511.66,396.63 511.66,399.25 509.66,399.25 509.66,388.75 509.16,388.75 509.16,386.13 508.04,386.13 508.04,383.50 507.04,383.50 507.04,382.63 506.04,382.63 506.04,366.35 505.16,366.35 505.16,380.00 504.29,380.00 504.29,380.88 503.66,380.88 503.66,386.13 502.16,386.13 502.16,378.25 501.04,378.25 501.04,387.00 500.04,387.00 500.04,378.25 499.04,378.25 499.04,382.63 497.91,382.63 497.91,380.88 496.91,380.88 496.91,381.75 495.79,381.75 495.79,376.50 494.79,376.50 494.79,380.00 493.79,380.00 493.79,370.38 492.66,370.38 492.66,386.13 491.66,386.13 491.66,378.25 490.54,378.25 490.54,379.13 489.04,379.13 489.04,377.38 488.54,377.38 488.54,375.63 487.41,375.63 487.41,373.88 486.41,373.88 486.41,379.13 485.29,379.13 485.29,374.75 484.29,374.75 484.29,385.25 483.29,385.25 483.29,376.50 482.16,376.50 482.16,384.38 480.04,384.38 480.04,383.50 479.04,383.50 479.04,377.38 478.04,377.38 478.04,393.13 476.91,393.13 476.91,369.50 475.91,369.50 475.91,389.63 475.29,389.63 475.29,394.88 473.79,394.88 473.79,370.38 472.91,370.38 472.91,407.13 470.91,407.13 470.91,389.63 470.66,389.63 470.66,378.25 469.54,378.25 469.54,387.88 468.04,387.88 468.04,384.38 467.54,384.38 467.54,380.88 466.41,380.88 466.41,386.13 464.91,386.13 464.91,385.25 464.29,385.25 464.29,383.50 463.29,383.50 463.29,374.75 462.29,374.75 462.29,383.50 461.16,383.50 461.16,375.63 460.16,375.63 460.16,381.75 459.04,381.75 459.04,376.50 458.04,376.50 458.04,386.13 457.04,386.13 457.04,365.13 455.91,365.13 455.91,386.13 454.41,386.13 454.41,373.00 453.79,373.00 453.79,360.75 452.79,360.75 452.79,382.63 451.29,382.63 451.29,367.75 451.04,367.75 451.04,348.75 450.41,348.75 450.41,349.00 449.54,349.00 449.54,349.25 448.54,349.25 448.54,349.50 447.54,349.50 447.54,349.75 446.54,349.75 446.54,349.25 445.54,349.25 445.54,350.00 444.54,350.00 444.54,350.50 443.54,350.50 443.54,348.50 442.54,348.50 442.54,349.00 441.54,349.00 441.54,348.75 440.54,348.75 440.54,348.50 439.54,348.50 439.54,349.00 438.54,349.00 438.54,348.75 437.54,348.75 437.54,348.00 436.54,348.00 436.54,348.25 435.54,348.25 435.54,348.75 434.54,348.75 434.54,348.25 433.54,348.25 433.54,347.75 432.54,347.75 432.54,348.00 430.54,348.00 430.54,347.50 429.54,347.50 429.54,347.75 428.54,347.75 428.54,348.00 427.54,348.00 427.54,347.75 426.54,347.75 426.54,348.00 425.54,348.00 425.54,348.50 424.54,348.50 424.54,347.75 423.54,347.75 423.54,348.00 422.54,348.00 422.54,348.75 421.54,348.75 421.54,348.50 420.54,348.50 420.54,348.00 419.54,348.00 419.54,348.25 418.54,348.25 418.54,348.50 417.54,348.50 417.54,350.75 416.54,350.75 416.54,350.00 415.54,350.00 415.54,350.25 414.54,350.25 414.54,350.50 413.54,350.50 413.54,349.75 413.04,349.75 413.04,352.00 411.54,352.00 411.54,349.50 410.54,349.50 410.54,350.50 409.54,350.50 409.54,350.00 409.04,350.00 409.04,352.75 407.54,352.75 407.54,351.00 406.54,351.00 406.54,353.00 405.54,353.00 405.54,353.50 404.29,353.50 404.29,358.33 402.29,358.33 402.29,356.25 399.66,356.25 399.66,359.38 396.54,359.38 396.54,358.85 393.66,358.85 393.66,359.38 391.41,359.38 391.41,363.02 389.29,363.02 389.29,360.42 387.41,360.42 387.41,363.02 385.66,363.02 385.66,361.46 383.54,361.46 383.54,360.94 381.16,360.94 381.16,358.33 378.91,358.33 378.91,361.98 376.79,361.98 376.79,360.42 374.29,360.42 374.29,362.50 372.91,362.50 372.91,366.00 371.41,366.00 371.41,363.38 370.29,363.38 370.29,366.88 369.29,366.88 369.29,369.50 368.66,369.50 368.66,371.25 367.16,371.25 367.16,362.50 366.16,362.50 366.16,367.75 365.04,367.75 365.04,371.25 363.04,371.25 363.04,370.38 361.91,370.38 361.91,371.25 360.91,371.25 360.91,366.88 359.79,366.88 359.79,371.25 357.79,371.25 357.79,372.13 356.66,372.13 356.66,386.13 355.66,386.13 355.66,387.00 354.04,387.00 354.04,391.38 352.04,391.38 352.04,389.63 351.41,389.63 351.41,384.38 350.41,384.38 350.41,387.00 349.79,387.00 349.79,390.50 348.29,390.50 348.29,384.38 347.29,384.38 347.29,388.75 346.16,388.75 346.16,387.00 345.16,387.00 345.16,395.75 344.04,395.75 344.04,378.25 343.04,378.25 343.04,388.75 342.41,388.75 342.41,395.75 340.91,395.75 340.91,384.38 339.91,384.38 339.91,385.25 338.41,385.25 338.41,384.38 336.79,384.38 336.79,385.25 336.16,385.25 336.16,386.13 334.16,386.13 334.16,384.38 333.54,384.38 333.54,383.50 332.54,383.50 332.54,379.13 331.54,379.13 331.54,391.38 330.41,391.38 330.41,381.75 329.41,381.75 329.41,384.38 328.29,384.38 328.29,387.00 327.79,387.00 327.79,389.63 326.29,389.63 326.29,381.75 325.16,381.75 325.16,383.50 324.66,383.50 324.66,387.00 323.04,387.00 323.04,382.63 322.04,382.63 322.04,392.25 321.41,392.25 321.41,397.50 319.91,397.50 319.91,395.75 318.91,395.75 318.91,398.38 317.79,398.38 317.79,401.00 316.79,401.00 316.79,402.75 316.16,402.75 316.16,419.38 314.16,419.38 314.16,406.25 314.04,406.25 314.04,401.00 312.91,401.00 312.91,402.75 311.91,402.75 311.91,410.63 311.29,410.63 311.29,412.38 309.29,412.38 309.29,398.38 308.79,398.38 308.79,397.50 307.16,397.50 307.16,402.75 305.16,402.75 305.16,396.63 304.91,396.63 304.91,395.75 303.79,395.75 303.79,393.13 302.79,393.13 302.79,383.50 301.79,383.50 301.79,394.00 300.66,394.00 300.66,397.50 299.66,397.50 299.66,399.25 298.54,399.25 298.54,408.88 296.54,408.88 296.54,401.88 295.41,401.88 295.41,402.75 294.91,402.75 294.91,410.63 292.91,410.63 292.91,395.75 292.66,395.75 292.66,391.38 291.54,391.38 291.54,390.50 290.54,390.50 290.54,392.25 290.41,392.25 290.41,400.13 288.91,400.13 288.91,385.25 287.91,385.25 287.91,393.13 286.79,393.13 286.79,381.75 285.79,381.75 285.79,384.38 284.79,384.38 284.79,380.88 283.66,380.88 283.66,397.50 282.66,397.50 282.66,385.25 281.54,385.25 281.54,394.00 281.04,394.00 281.04,399.25 279.04,399.25 279.04,389.63 278.41,389.63 278.41,387.00 277.41,387.00 277.41,389.63 276.79,389.63 276.79,391.38 274.79,391.38 274.79,390.50 274.29,390.50 274.29,387.88 273.16,387.88 273.16,382.63 272.16,382.63 272.16,384.38 271.04,384.38 271.04,385.60 270.04,385.60 270.04,392.25 269.41,392.25 269.41,404.50 267.41,404.50 267.41,394.00 266.91,394.00 266.91,393.13 265.79,393.13 265.79,390.50 264.79,390.50 264.79,394.00 264.16,394.00 264.16,398.38 262.66,398.38 262.66,392.25 261.66,392.25 261.66,393.13 260.16,393.13 260.16,392.25 259.54,392.25 259.54,391.38 258.54,391.38 258.54,391.90 257.41,391.90 257.41,391.38 256.41,391.38 256.41,387.00 255.29,387.00 255.29,380.88 254.29,380.88 254.29,387.00 252.16,387.00 252.16,381.75 250.04,381.75 250.04,387.88 249.04,387.88 249.04,392.25 246.91,392.25 246.91,394.00 245.91,394.00 245.91,396.63 244.79,396.63 244.79,397.50 243.79,397.50 243.79,399.25 243.16,399.25 243.16,414.13 241.16,414.13 241.16,406.25 240.66,406.25 240.66,403.63 239.54,403.63 239.54,405.38 238.54,405.38 238.54,406.25 237.54,406.25 237.54,408.88 236.91,408.88 236.91,416.75 234.91,416.75 234.91,408.00 234.29,408.00 234.29,404.50 233.29,404.50 233.29,395.75 232.29,395.75 232.29,391.38 231.16,391.38 231.16,392.25 230.16,392.25 230.16,391.38 229.04,391.38 229.04,394.00 228.54,394.00 228.54,409.75 226.54,409.75 226.54,387.00 225.91,387.00 225.91,383.50 224.91,383.50 224.91,382.63 223.79,382.63 223.79,384.38 221.79,384.38 221.79,385.60 220.66,385.60 220.66,386.13 219.66,386.13 219.66,383.50 218.54,383.50 218.54,402.75 217.54,402.75 217.54,391.38 216.54,391.38 216.54,394.00 215.91,394.00 215.91,405.38 214.54,405.38 214.54,382.63 213.66,382.63 213.66,394.88 212.16,394.88 212.16,394.00 211.54,394.00 211.54,385.25 210.54,385.25 210.54,385.60 209.54,385.60 209.54,387.00 208.41,387.00 208.41,388.75 207.91,388.75 207.91,403.63 205.91,403.63 205.91,389.63 205.66,389.63 205.66,388.75 204.54,388.75 204.54,387.88 203.54,387.88 203.54,387.00 201.41,387.00 201.41,385.25 200.41,385.25 200.41,392.25 199.29,392.25 199.29,383.50 198.29,383.50 198.29,387.00 197.29,387.00 197.29,382.63 196.16,382.63 196.16,393.13 194.66,393.13 194.66,380.88 194.04,380.88 194.04,380.00 193.04,380.00 193.04,376.50 192.04,376.50 192.04,380.00 190.41,380.00 190.41,376.50 189.91,376.50 189.91,374.75 188.79,374.75 188.79,373.00 187.79,373.00 187.79,372.13 186.79,372.13 186.79,377.38 185.66,377.38 185.66,375.63 184.66,375.63 184.66,377.38 183.54,377.38 183.54,380.00 183.04,380.00 183.04,391.38 181.66,391.38 181.66,366.00 180.79,366.00 180.79,380.88 179.16,380.88 179.16,381.75 177.16,381.75 177.16,380.88 176.54,380.88 176.54,362.50 175.54,362.50 175.54,376.50 174.04,376.50 174.04,362.50 173.41,362.50 173.41,358.13 172.41,358.13 172.41,366.88 170.91,366.88 170.91,361.63 170.29,361.63 170.29,357.25 169.29,357.25 169.29,359.00 167.66,359.00 167.66,358.13 167.16,358.13 167.16,355.85 166.04,355.85 166.04,354.63 165.04,354.63 165.04,356.90 162.91,356.90 162.91,357.25 161.91,357.25 161.91,357.60 160.79,357.60 160.79,358.13 159.79,358.13 159.79,357.25 158.79,357.25 158.79,359.35 157.66,359.35 157.66,359.88 156.66,359.88 156.66,358.13 155.54,358.13 155.54,357.60 154.54,357.60 154.54,355.15 153.54,355.15 153.54,356.38 151.91,356.38 151.91,355.50 151.41,355.50 151.41,354.63 150.29,354.63 150.29,352.88 149.29,352.88 149.29,352.00 148.29,352.00 148.29,351.13 147.16,351.13 147.16,349.38 146.16,349.38 146.16,352.00 145.91,352.00 145.91,358.13 143.91,358.13 143.91,352.00 143.66,352.00 143.66,346.75 142.66,346.75 142.66,347.63 142.10,347.63"/>
<path d="M120.5,259.5H864.5V427.5H120.5Z" fill="none" stroke="#000" stroke-width="1.11" stroke-linejoin="miter" stroke-linecap="square"/>
<line x1="143.5" y1="427.5" x2="143.5" y2="432.4" stroke="#000" stroke-width="1.11"/>
<text transform="translate(142.15,444.90) scale(1.06,1)" text-anchor="middle" class="t">0.0</text>
<line x1="255.5" y1="427.5" x2="255.5" y2="432.4" stroke="#000" stroke-width="1.11"/>
<text transform="translate(254.90,444.90) scale(1.06,1)" text-anchor="middle" class="t">0.5</text>
<line x1="368.5" y1="427.5" x2="368.5" y2="432.4" stroke="#000" stroke-width="1.11"/>
<text transform="translate(367.30,444.90) scale(1.06,1)" text-anchor="middle" class="t">1.0</text>
<line x1="481.5" y1="427.5" x2="481.5" y2="432.4" stroke="#000" stroke-width="1.11"/>
<text transform="translate(480.25,444.90) scale(1.06,1)" text-anchor="middle" class="t">1.5</text>
<line x1="593.5" y1="427.5" x2="593.5" y2="432.4" stroke="#000" stroke-width="1.11"/>
<text transform="translate(593.30,444.90) scale(1.06,1)" text-anchor="middle" class="t">2.0</text>
<line x1="706.5" y1="427.5" x2="706.5" y2="432.4" stroke="#000" stroke-width="1.11"/>
<text transform="translate(706.35,444.90) scale(1.06,1)" text-anchor="middle" class="t">2.5</text>
<line x1="819.5" y1="427.5" x2="819.5" y2="432.4" stroke="#000" stroke-width="1.11"/>
<text transform="translate(819.30,444.90) scale(1.06,1)" text-anchor="middle" class="t">3.0</text>
<line x1="120.5" y1="275.5" x2="115.6" y2="275.5" stroke="#000" stroke-width="1.11"/>
<text transform="translate(109.90,279.00) scale(1.06,1)" text-anchor="end" class="t">0.15</text>
<line x1="120.5" y1="299.5" x2="115.6" y2="299.5" stroke="#000" stroke-width="1.11"/>
<text transform="translate(109.90,303.00) scale(1.06,1)" text-anchor="end" class="t">0.10</text>
<line x1="120.5" y1="323.5" x2="115.6" y2="323.5" stroke="#000" stroke-width="1.11"/>
<text transform="translate(109.90,327.00) scale(1.06,1)" text-anchor="end" class="t">0.05</text>
<line x1="120.5" y1="347.5" x2="115.6" y2="347.5" stroke="#000" stroke-width="1.11"/>
<text transform="translate(109.90,351.00) scale(1.06,1)" text-anchor="end" class="t">0.00</text>
<line x1="120.5" y1="371.5" x2="115.6" y2="371.5" stroke="#000" stroke-width="1.11"/>
<text transform="translate(108.90,375.00) scale(1.06,1)" text-anchor="end" class="t">0.05</text>
<rect x="76.90" y="370.90" width="7.1" height="1.15" fill="#000"/>
<line x1="120.5" y1="395.5" x2="115.6" y2="395.5" stroke="#000" stroke-width="1.11"/>
<text transform="translate(108.90,399.00) scale(1.06,1)" text-anchor="end" class="t">0.10</text>
<rect x="76.90" y="394.90" width="7.1" height="1.15" fill="#000"/>
<line x1="120.5" y1="419.5" x2="115.6" y2="419.5" stroke="#000" stroke-width="1.11"/>
<text transform="translate(108.90,423.00) scale(1.06,1)" text-anchor="end" class="t">0.15</text>
<rect x="76.90" y="418.90" width="7.1" height="1.15" fill="#000"/>
<text transform="translate(68.00,344.80) rotate(-90) scale(1.1,1)" text-anchor="middle" class="t">Channel 2</text>
</g>
</svg>
</body></html>
